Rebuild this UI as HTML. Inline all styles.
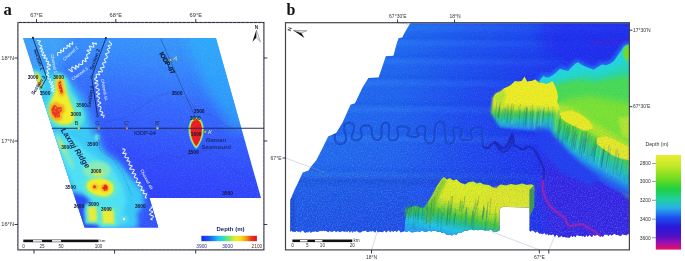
<!DOCTYPE html>
<html><head><meta charset="utf-8"><title>Figure</title>
<style>
html,body{margin:0;padding:0;background:#fff;}
svg{display:block}
text{font-family:"Liberation Sans",sans-serif;}
.ser{font-family:"Liberation Serif",serif;font-weight:bold;}
.lb{font-size:5.7px;fill:#333;}
.ct{font-size:4.8px;font-weight:bold;fill:#151530;}
.ch{font-size:4.2px;fill:#f4f8ff;}
.sec{font-size:4.9px;fill:#14224e;font-weight:bold;}
</style></head><body>
<svg width="685" height="261" viewBox="0 0 685 261">
<defs>
<filter id="b1" x="-30%" y="-30%" width="160%" height="160%"><feGaussianBlur stdDeviation="1"/></filter>
<filter id="b15" x="-30%" y="-30%" width="160%" height="160%"><feGaussianBlur stdDeviation="1.5"/></filter>
<filter id="b2" x="-30%" y="-30%" width="160%" height="160%"><feGaussianBlur stdDeviation="2.2"/></filter>
<filter id="b3" x="-30%" y="-30%" width="160%" height="160%"><feGaussianBlur stdDeviation="3.5"/></filter>
<filter id="b5" x="-40%" y="-40%" width="180%" height="180%"><feGaussianBlur stdDeviation="6"/></filter>
<filter id="b05" x="-30%" y="-30%" width="160%" height="160%"><feGaussianBlur stdDeviation="0.5"/></filter>
<linearGradient id="mapg" gradientUnits="userSpaceOnUse" x1="200" y1="38" x2="175" y2="200">
<stop offset="0" stop-color="#3699fa"/><stop offset="0.2" stop-color="#3586fb"/><stop offset="0.43" stop-color="#3468fc"/><stop offset="0.8" stop-color="#304afa"/><stop offset="1" stop-color="#2e40f8"/>
</linearGradient>
<linearGradient id="cba" x1="0" y1="0" x2="1" y2="0">
<stop offset="0" stop-color="#1028f0"/><stop offset="0.15" stop-color="#1c60f0"/><stop offset="0.3" stop-color="#20c0f0"/><stop offset="0.4" stop-color="#30e0c0"/><stop offset="0.5" stop-color="#80e860"/><stop offset="0.62" stop-color="#e8f030"/><stop offset="0.72" stop-color="#f8d818"/><stop offset="0.82" stop-color="#f09010"/><stop offset="0.9" stop-color="#e83818"/><stop offset="1" stop-color="#e01020"/>
</linearGradient>
<linearGradient id="cbb" x1="0" y1="0" x2="0" y2="1">
<stop offset="0" stop-color="#ecec30"/><stop offset="0.12" stop-color="#c0e828"/><stop offset="0.25" stop-color="#70dc20"/><stop offset="0.36" stop-color="#20d040"/><stop offset="0.47" stop-color="#20d0a0"/><stop offset="0.56" stop-color="#28b0e8"/><stop offset="0.66" stop-color="#2050f0"/><stop offset="0.76" stop-color="#2818d8"/><stop offset="0.86" stop-color="#5010c8"/><stop offset="0.93" stop-color="#a010b0"/><stop offset="1" stop-color="#e81060"/>
</linearGradient>
<filter id="nza" x="0" y="0" width="100%" height="100%"><feTurbulence type="fractalNoise" baseFrequency="0.9" numOctaves="2" seed="7"/><feColorMatrix type="matrix" values="0 0 0 0 0.75  0 0 0 0 0.85  0 0 0 0 1  0 0 0 2.4 -1.15"/></filter>
<clipPath id="mapclip"><polygon points="23,38 216,38 261,198 149.5,198 158.3,227.5 84.6,227.5"/></clipPath>
</defs>
<rect width="685" height="261" fill="#fff"/>

<g id="panelA">
<g clip-path="url(#mapclip)">
<rect x="20" y="36" width="245" height="194" fill="url(#mapg)"/>
<polygon points="16,30 70,30 62,60 50,80 30,80" fill="#44b0f6" opacity="0.6" filter="url(#b5)"/>
<polygon points="186,30 224,30 252,130 232,130 206,90 190,50" fill="#2cb0fa" opacity="0.65" filter="url(#b5)"/>
<g filter="url(#b3)">
<polygon points="20,66 44,66 58,70 70,80 84,96 92,118 97,130 104,150 120,162 132,178 144,192 146,210 138,230 80,232 20,232" fill="#38a4f8" opacity="0.95"/>
</g>
<g filter="url(#b2)">
<polygon points="30,70 44,72 54,74 66,78 76,94 86,112 88,126 94,140 104,154 118,164 130,178 142,192 143,210 134,228 86,230 20,120" fill="#38ccf6" opacity="0.92"/>
<polygon points="56,134 70,136 86,150 100,160 114,170 122,184 126,200 120,226 92,228 76,190 62,160" fill="#50e2f2" opacity="0.9"/>
<polygon points="64,190 84,194 91,200 85.5,212 90,220 100,224 100,232 70,232" fill="#2c48f4" opacity="0.98"/>
<polygon points="136,214 150,196 164,230 140,230" fill="#3054f8" opacity="0.9"/>
</g>
<g filter="url(#b15)">
<path d="M56,73 C64,72 69,80 70,90 C74,98 82,106 84,115 C86,124 78,130 68,129.5 C56,129 46,122 45,112 C44,104 50,98 52,92 C53,86 51,78 56,73Z" fill="#5ce8d0"/>
<ellipse cx="38" cy="80.5" rx="4.8" ry="10.5" transform="rotate(-18 38 80.5)" fill="#5ce8d0"/>
<path d="M84,180 C92,172 110,173 117,182 C121,190 116,200 104,200.5 C96,200 87,197 84,191 C82,186 82,183 84,180Z" fill="#5ce8d0"/>
<ellipse cx="64.5" cy="151" rx="20" ry="3.2" transform="rotate(62 64.5 151)" fill="#7eeac0" opacity="0.9"/>
<ellipse cx="97" cy="170" rx="14" ry="9" fill="#8cecb0" opacity="0.9"/>
<rect x="85" y="204.5" width="14" height="19.5" fill="#5ce8d0"/>
<rect x="99" y="207" width="18" height="19" fill="#5ce8d0"/>
<ellipse cx="124" cy="219" rx="4" ry="4" fill="#58e0f0" opacity="0.8"/>
</g>
<g filter="url(#b1)">
<path d="M57.5,76.5 C62,75 65,80 66,90 C68,98 72,105 74,113 C75.5,120 72,124.5 66,124.5 C58,125 50.5,120 49.5,112 C48.5,104 53,98 55,92 C56,86 54.5,80 57.5,76.5Z" fill="#f2ee28"/>
<ellipse cx="38" cy="80.5" rx="3" ry="8.2" transform="rotate(-18 38 80.5)" fill="#f0e028"/>
<path d="M88,181.5 C94,177 107,177.5 112.5,184 C115.5,190 111.5,196.5 104,196.5 C98,196 90.5,193.5 88,190 C86,186.5 86.5,183.5 88,181.5Z" fill="#f2ee28"/>
<ellipse cx="98" cy="173" rx="5.5" ry="3.2" fill="#cdec54" opacity="0.85"/>
<ellipse cx="62" cy="146" rx="7" ry="1.5" transform="rotate(62 62 146)" fill="#c8ec58" opacity="0.85"/>
<path d="M87.8,207.5 L96,206.5 L97,221.5 L89,221.5Z" fill="#e8ec38"/>
<path d="M101.8,210 L113.5,209.5 L114.5,223.5 L103,223.5Z" fill="#e8ec38"/>
</g>
<g filter="url(#b1)">
<path d="M57.5,80 L62,79 L63.5,88 L65,94 L61,97 L58,91 L57,85Z" fill="#f4a81c"/>
<path d="M50,105 L56,101.5 L60,104 L64,105 L65,111 L62,115 L62,120 L55,121 L51,117 L49.5,111Z" fill="#f4a81c"/>
<ellipse cx="95" cy="187" rx="3.4" ry="3" fill="#f4b01c"/>
<ellipse cx="105" cy="187.8" rx="4.4" ry="4" fill="#f4a81c"/>
<circle cx="39" cy="84" r="2" fill="#f4a81c"/>
</g>
<g filter="url(#b05)">
<path d="M58.8,82 L60.8,81 L61.6,86 L63,92 L61,94 L59.6,90 L58.5,85Z" fill="#ea2a1c"/>
<path d="M52,107 L55,104.5 L57.5,107.5 L61.5,107 L62,111 L59.5,113.5 L60,117 L56,118 L53,115.5 L51.2,111Z" fill="#ea2a1c" opacity="0.9"/>
<circle cx="39.2" cy="84.5" r="1.0" fill="#e83820"/>
<circle cx="94.5" cy="186.8" r="1.5" fill="#e83020"/>
<path d="M103,185.3 L106,184.5 L107.8,187 L107.3,190.6 L104,190.8 L102.3,188Z" fill="#e81c1c"/>
<circle cx="124" cy="219" r="1.2" fill="#f8f8d0"/>
</g>
<g fill="#f6b428">
<rect x="60.1" y="83.4" width="0.9" height="0.9"/>
<rect x="59.2" y="84.0" width="0.9" height="0.9"/>
<rect x="61.5" y="84.0" width="0.9" height="0.9"/>
<rect x="60.0" y="89.2" width="0.9" height="0.9"/>
<rect x="60.7" y="92.3" width="0.9" height="0.9"/>
<rect x="60.5" y="86.1" width="0.9" height="0.9"/>
<rect x="61.0" y="83.6" width="0.9" height="0.9"/>
<rect x="62.1" y="85.5" width="0.9" height="0.9"/>
<rect x="60.1" y="89.2" width="0.9" height="0.9"/>
<rect x="59.1" y="88.9" width="0.9" height="0.9"/>
<rect x="60.3" y="108.7" width="0.9" height="0.9"/>
<rect x="61.4" y="111.4" width="0.9" height="0.9"/>
<rect x="59.5" y="110.6" width="0.9" height="0.9"/>
<rect x="55.4" y="107.8" width="0.9" height="0.9"/>
<rect x="51.1" y="106.9" width="0.9" height="0.9"/>
<rect x="61.9" y="111.5" width="0.9" height="0.9"/>
<rect x="56.1" y="116.6" width="0.9" height="0.9"/>
<rect x="57.7" y="117.7" width="0.9" height="0.9"/>
<rect x="54.9" y="107.0" width="0.9" height="0.9"/>
<rect x="61.1" y="106.3" width="0.9" height="0.9"/>
<rect x="59.7" y="112.3" width="0.9" height="0.9"/>
<rect x="61.8" y="117.2" width="0.9" height="0.9"/>
<rect x="58.3" y="104.5" width="0.9" height="0.9"/>
<rect x="51.3" y="110.6" width="0.9" height="0.9"/>
<rect x="60.0" y="105.1" width="0.9" height="0.9"/>
<rect x="55.7" y="105.2" width="0.9" height="0.9"/>
<rect x="54.4" y="104.1" width="0.9" height="0.9"/>
<rect x="54.6" y="111.3" width="0.9" height="0.9"/>
<rect x="53.2" y="115.0" width="0.9" height="0.9"/>
<rect x="51.6" y="107.0" width="0.9" height="0.9"/>
<rect x="53.8" y="109.7" width="0.9" height="0.9"/>
<rect x="59.4" y="109.0" width="0.9" height="0.9"/>
<rect x="58.6" y="116.9" width="0.9" height="0.9"/>
<rect x="52.4" y="116.1" width="0.9" height="0.9"/>
<rect x="57.6" y="114.5" width="0.9" height="0.9"/>
<rect x="57.7" y="109.7" width="0.9" height="0.9"/>
<rect x="102.9" y="185.5" width="0.9" height="0.9"/>
<rect x="103.3" y="185.7" width="0.9" height="0.9"/>
<rect x="103.2" y="185.8" width="0.9" height="0.9"/>
<rect x="105.3" y="189.2" width="0.9" height="0.9"/>
<rect x="106.5" y="189.7" width="0.9" height="0.9"/>
<rect x="103.0" y="189.5" width="0.9" height="0.9"/>
</g>
<g filter="url(#b05)">
<path d="M196.1,116.8 C201.9,117.6 203.8,124.5 203.8,129.5 C203.8,137.5 199.6,146.0 196.1,149 C192.6,146.0 188.4,137.5 188.4,129.5 C188.4,124.5 190.3,117.6 196.1,116.8Z" fill="#38dce0"/>
<path d="M196.1,117.8 C201.3,118.6 203.0,124.5 203.0,129.5 C203.0,137.5 199.2,144.8 196.1,147.8 C193.0,144.8 189.2,137.5 189.2,129.5 C189.2,124.5 190.9,118.6 196.1,117.8Z" fill="#c8ec38"/>
<path d="M196.1,118.6 C200.8,119.4 202.4,124.5 202.4,129.5 C202.4,137.5 198.9,144.0 196.1,147 C193.3,144.0 189.8,137.5 189.8,129.5 C189.8,124.5 191.4,119.4 196.1,118.6Z" fill="#f4d020"/>
<path d="M196.2,119.4 C200.5,120.2 201.9,124.5 201.9,129.5 C201.9,137.5 198.8,143.2 196.2,146.2 C193.6,143.2 190.5,137.5 190.5,129.5 C190.5,124.5 191.9,120.2 196.2,119.4Z" fill="#ea1c24"/>
</g>
<ellipse cx="96.8" cy="137.5" rx="2.6" ry="3.4" fill="#58e4e0" filter="url(#b1)"/>
<rect x="20" y="36" width="245" height="194" filter="url(#nza)" opacity="0.14"/>
<g fill="none" stroke="#22306a" stroke-width="0.45" stroke-dasharray="0.6 1" opacity="0.8">
<path d="M97,128 L100,150 L112,158 L122,172 L128,186 L132,196"/>
<path d="M104,122 L124,118 L140,108 L158,96 L172,92 L188,100 L200,112 L214,116 L226,126 L238,132"/>
<path d="M150,160 L166,154 L180,158 L196,152 L210,150 L224,160 L236,172 L248,176"/>
</g>
</g>
<g stroke="#16265e" stroke-width="0.9" fill="none">
<path d="M32.9,37.9 L46.8,77.8 L41.2,87.3"/>
<path d="M105.9,38.1 L91.6,77 L97.5,116"/>
</g>
<path d="M160.6,38.5 L196,119" stroke="#1d2c50" stroke-width="0.45" fill="none" opacity="0.85"/>
<path d="M51.8,128.3 L264,128.3" stroke="#262c58" stroke-width="1.05" fill="none"/>
<circle cx="32.9" cy="37.9" r="1.1" fill="#1a2a50"/>
<circle cx="105.9" cy="38.1" r="1.1" fill="#1a2a50"/>
<circle cx="46.8" cy="77.8" r="1.1" fill="#1a7a8a" stroke="#16265e" stroke-width="0.4"/>
<circle cx="41.2" cy="87.3" r="1.1" fill="#1a7a8a" stroke="#16265e" stroke-width="0.4"/>
<circle cx="91.6" cy="77" r="1.1" fill="#1a7a8a" stroke="#16265e" stroke-width="0.4"/>
<circle cx="97.5" cy="116" r="1.1" fill="#1a7a8a" stroke="#16265e" stroke-width="0.4"/>
<rect x="77.8" y="127.3" width="2" height="2" fill="#e8e030"/>
<rect x="97.8" y="127.3" width="2" height="2" fill="#d08840"/>
<rect x="126" y="127.3" width="2" height="2" fill="#d08840"/>
<rect x="156.5" y="127.3" width="2" height="2" fill="#e8e030"/>
<circle cx="205.2" cy="131.9" r="1.1" fill="#f0d020" stroke="#604000" stroke-width="0.3"/>
<circle cx="170.4" cy="59.9" r="1.2" fill="#f0c020" stroke="#604000" stroke-width="0.3"/>
<g stroke="#f2faff" stroke-width="1.05" fill="none" stroke-linecap="round" stroke-linejoin="round" opacity="0.95">
<path d="M37.3,40.4 L37.7,40.6 L38.3,40.7 L39.0,40.8 L39.7,40.9 L40.2,41.0 L40.3,41.3 L40.1,41.7 L39.7,42.1 L39.0,42.7 L38.8,43.0 L38.8,43.4 L38.8,43.7 L38.9,44.0 L39.1,44.2 L39.3,44.5 L39.6,44.7 L39.9,44.9 L40.2,45.1 L40.5,45.3 L41.0,45.5 L41.5,45.7 L41.8,45.9 L41.9,46.1 L41.8,46.5 L41.5,46.9 L41.0,47.4 L40.5,47.9 L40.0,48.4 L40.0,48.7 L40.6,48.8 L41.4,48.8 L42.1,48.9 L42.6,49.1 L42.8,49.3 L42.5,49.7 L42.0,50.2 L41.4,50.7 L41.1,51.2 L41.1,51.5 L41.3,51.7 L41.9,51.8 L42.6,51.9 L43.2,52.0 L43.6,52.2 L43.7,52.5 L43.5,52.9 L43.2,53.3 L42.9,53.7 L42.5,54.2 L42.1,54.6 L42.0,54.9 L42.3,55.2 L43.0,55.4 L43.8,55.2 L44.7,55.1 L45.3,55.1 L45.5,55.3 L45.3,55.7 L44.8,56.4 L44.2,57.1 L43.9,57.7 L43.9,58.0 L44.3,58.1 L44.9,58.1 L45.5,58.1 L46.0,58.1 L46.5,58.2 L46.9,58.3 L47.1,58.5 L47.1,58.9 L46.9,59.3 L46.6,59.9 L46.3,60.4 L46.0,60.9 L46.1,61.2 L46.5,61.4 L47.1,61.4 L47.7,61.4 L48.2,61.4 L48.6,61.5 L48.7,61.8 L48.6,62.2 L48.2,62.8 L47.8,63.4 L47.4,63.9 L47.4,64.3 L47.9,64.4 L48.6,64.0 L49.5,64.4 L50.1,64.8 L50.5,65.1 L50.6,65.4 L50.3,65.7 L49.7,65.9 L48.9,66.1 L48.1,66.3 L47.4,66.6 L46.9,66.8 L46.9,67.1 L47.2,67.4 L47.8,67.8 L48.6,68.2 L49.5,68.6 L50.1,69.0 L50.0,69.3 L49.3,69.5 L48.2,69.7 L47.6,69.9 L47.3,70.2 L47.1,70.5 L47.1,70.8 L47.2,71.1 L47.4,71.4 L47.6,71.7 L47.8,72.1 L48.1,72.4 L48.5,72.7 L48.7,73.1 L48.5,73.4 L48.1,73.6 L47.5,73.8 L47.0,74.1 L46.7,74.3 L46.7,74.6 L47.0,75.0 L47.5,75.3 L48.0,75.7 L48.4,76.1 L48.5,75.7 L48.6,76.0 L48.5,76.4 L48.3,76.9 L48.0,77.4 L47.8,77.9 L47.7,78.3 L47.7,78.6 L48.0,78.8 L48.4,78.9 L48.9,78.9 L49.4,79.0 L50.1,79.0 L50.6,79.0 L50.8,79.3 L50.7,79.7 L50.3,80.2 L49.9,80.8 L49.4,81.4 L49.1,81.9 L49.2,82.2 L49.8,82.2 L50.7,82.1 L51.6,81.9 L52.5,81.7 L52.8,81.9 L52.6,82.4 L51.9,83.1 L51.1,83.9 L50.6,84.5 L50.2,84.3 L50.4,84.6 L51.1,84.8 L52.2,85.0 L53.1,85.1 L53.6,85.4 L53.4,85.7 L52.9,86.1 L52.3,86.5 L51.6,86.8 L51.0,87.2 L51.0,87.5 L51.6,87.8 L52.6,87.9 L53.5,88.1 L54.0,88.4 L54.1,88.6 L53.7,89.0 L53.0,89.4 L52.2,89.8 L51.7,90.2 L51.6,90.5 L51.9,90.7 L52.5,91.0 L53.2,91.2 L53.6,91.4 L54.0,91.7"/>
<path d="M57.7,55.4 L57.7,54.9 L57.6,54.3 L57.6,53.8 L57.6,53.3 L57.7,53.0 L57.9,52.7 L58.1,52.5 L58.4,52.4 L58.8,52.4 L59.2,52.4 L59.6,52.5 L60.0,52.6 L60.6,52.8 L61.0,52.8 L61.1,52.4 L60.9,51.7 L60.7,51.0 L60.6,50.3 L60.7,50.0 L61.2,50.1 L61.9,50.6 L62.8,51.2 L63.3,51.4 L63.6,51.3 L63.6,50.9 L63.6,50.3 L63.5,49.6 L63.5,49.1 L63.5,48.7 L63.6,48.3 L63.8,48.1 L64.1,48.0 L64.5,48.0 L64.9,48.1 L65.4,48.2 L65.9,48.4 L66.3,48.4 L66.6,48.3 L66.9,48.2 L67.0,47.9 L67.1,47.5 L67.2,47.1 L67.2,46.6 L67.1,45.9 L67.0,45.3 L67.3,45.2 L67.9,45.5 L68.8,46.2 L69.6,46.8 L70.1,46.9 L70.1,46.5 L69.9,45.6 L69.4,44.6 L69.3,44.0 L69.4,43.6 L69.7,43.4 L70.0,43.4 L70.5,43.5 L71.0,43.7 L71.6,43.9 L72.2,44.2 L72.6,44.3 L72.8,44.1 L72.7,43.5 L72.5,42.6 L72.2,41.7"/>
<path d="M68.8,69.7 L69.1,69.5 L69.6,69.8 L70.3,70.4 L71.1,71.1 L71.7,71.6 L72.1,71.7 L72.3,71.4 L72.1,70.5 L71.8,69.4 L71.7,68.7 L71.7,68.1 L71.8,67.6 L71.9,67.2 L72.1,67.0 L72.5,67.0 L72.9,67.2 L73.4,67.4 L74.0,67.8 L74.6,68.2 L75.4,69.0 L75.9,69.3 L76.1,69.0 L76.0,68.2 L75.7,67.3 L75.5,66.3 L75.5,65.7 L75.8,65.5 L76.3,65.8 L77.0,66.5 L77.8,67.2 L78.2,67.3 L78.5,67.2 L78.7,66.9 L78.7,66.4 L78.8,65.9 L78.8,65.3 L78.7,64.8 L78.7,64.4 L78.9,64.1 L79.2,64.0 L79.7,64.1 L80.2,64.3 L80.8,64.5 L81.2,64.5 L81.7,64.6 L82.0,64.5 L82.3,64.4 L82.5,64.2 L82.6,63.8 L82.6,63.4 L82.6,62.9 L82.5,62.3 L82.4,61.7 L82.4,61.2 L82.5,60.9 L82.7,60.7 L83.0,60.6 L83.4,60.6 L83.9,60.7 L84.4,60.9 L85.1,61.2 L85.7,61.5 L86.1,61.5 L86.1,61.0 L85.8,60.2 L85.4,59.2 L85.1,58.5 L85.2,58.1 L85.6,58.1 L86.2,58.3 L86.8,58.6 L87.4,58.5 L87.8,58.2 L88.0,58.0 L87.9,57.6 L87.6,57.3 L87.2,56.9 L86.9,56.5 L86.7,56.1 L86.6,55.8 L86.6,55.5 L86.7,55.2 L86.8,54.9 L87.0,54.7 L87.2,54.4 L87.5,54.2 L87.9,53.9 L88.3,53.7 L88.9,53.6 L89.4,53.4 L89.7,53.1 L89.8,52.8 L89.6,52.5 L89.2,52.1 L88.6,51.7 L88.0,51.2 L87.2,50.7 L87.0,50.4 L87.4,50.2 L88.2,50.0 L89.1,50.1 L89.7,50.2 L90.3,50.3 L90.7,50.3 L90.9,50.1 L90.9,49.7 L90.7,49.1 L90.3,48.4 L89.9,47.7 L89.5,46.9 L89.3,46.3 L89.5,46.0 L90.0,46.1 L90.8,46.4 L91.7,46.8 L92.5,47.1 L93.1,47.2 L93.5,47.2 L93.8,47.1 L93.9,46.7 L93.8,46.3 L93.6,45.7 L93.3,45.0 L93.0,44.4 L92.6,43.6 L92.4,43.0 L92.5,42.8 L93.2,42.9 L94.1,43.3 L95.1,43.8 L96.1,44.3 L96.6,44.3 L96.5,43.8 L95.9,43.0"/>
<path d="M109.3,41.1 L109.3,41.4 L109.5,41.8 L109.9,42.2 L110.4,42.7 L110.9,43.1 L111.3,43.5 L111.5,43.9 L111.6,44.2 L111.5,44.5 L111.3,44.8 L111.0,45.0 L110.5,45.2 L109.9,45.3 L109.3,45.5 L108.5,45.6 L108.2,45.8 L108.4,46.1 L108.8,46.6 L109.4,47.1 L109.8,47.5 L109.9,47.8 L109.9,48.1 L109.5,48.3 L109.1,48.5 L108.5,48.7 L108.1,48.9 L107.7,49.1 L107.4,49.3 L107.4,49.6 L107.6,50.0 L108.0,50.4 L108.4,50.8 L108.8,51.2 L109.0,51.6 L109.1,51.9 L109.0,52.2 L108.8,52.5 L108.5,52.7 L108.0,52.9 L107.5,53.1 L107.0,53.2 L106.5,53.4 L106.0,53.6 L105.7,53.8 L105.6,54.1 L105.6,54.4 L105.9,54.7 L106.2,55.1 L106.6,55.6 L107.0,56.1 L107.2,56.5 L107.4,56.8 L107.4,57.2 L107.3,57.5 L107.1,57.7 L106.9,58.0 L106.6,58.2 L106.2,58.3 L105.9,58.5 L105.5,58.7 L105.0,58.8 L104.6,59.0 L104.4,59.3 L104.3,59.6 L104.4,59.9 L104.6,60.3 L104.9,60.7 L105.3,61.2 L105.6,61.6 L105.9,62.1 L105.8,62.4 L105.5,62.6 L105.0,62.7 L104.2,62.7 L103.4,62.7 L103.0,62.9 L102.7,63.1 L102.6,63.4 L102.7,63.7 L102.8,64.1 L103.0,64.5 L103.2,64.9 L103.4,65.3 L103.7,65.7 L104.0,66.2 L104.2,66.5 L104.2,66.9 L104.1,67.2 L103.8,67.4 L103.3,67.5 L102.7,67.6 L102.1,67.7 L101.3,67.7 L100.8,67.8 L100.4,68.0 L100.4,68.3 L100.6,68.7 L100.9,69.2 L101.4,69.7 L101.9,70.2 L102.3,70.6 L102.5,71.0 L102.5,71.3 L101.9,71.9 L101.5,71.9 L100.8,71.8 L100.2,71.6 L99.5,71.5 L98.9,71.4 L98.6,71.5 L98.5,71.8 L98.7,72.3 L99.0,73.0 L99.3,73.7 L99.7,74.4 L99.7,74.8 L99.4,74.9 L98.7,74.7 L97.8,74.3 L97.3,74.3 L96.8,74.3 L96.4,74.3 L96.2,74.5 L96.0,74.8 L96.1,75.2 L96.1,75.7 L96.3,76.2 L96.5,76.8 L96.8,77.4 L96.7,77.7 L96.4,77.8 L95.8,77.8 L95.4,77.8 L95.1,78.2 L94.9,78.5 L94.7,78.9 L94.7,79.2 L94.8,79.5 L95.1,79.7 L95.5,79.9 L96.0,80.2 L96.5,80.4 L97.1,80.5 L97.6,80.7 L97.8,81.0 L97.5,81.4 L96.9,81.8 L96.1,82.3 L95.3,82.7 L94.9,83.1 L95.1,83.4 L95.8,83.6 L96.8,83.7 L97.4,83.8 L97.9,84.1 L98.1,84.3 L98.1,84.6 L98.0,85.0 L97.6,85.4 L97.2,85.7 L96.8,86.1 L96.5,86.4 L96.1,86.8 L95.8,87.1 L95.7,87.4 L95.9,87.7 L96.2,88.0 L96.7,88.2 L97.3,88.4 L97.9,88.7 L98.4,88.9 L98.9,89.2 L99.1,89.4 L99.3,89.7 L99.2,90.0 L99.0,90.4 L98.6,90.7 L98.1,91.1 L97.6,91.4 L96.9,91.8 L96.4,92.2 L96.4,92.5 L96.7,92.7 L97.5,93.0 L98.3,93.2 L99.2,93.3 L99.7,93.6 L99.7,93.9 L99.1,94.3 L98.2,94.7 L97.6,95.1 L97.2,95.4 L97.0,95.7 L96.9,96.0 L97.0,96.3 L97.3,96.6 L97.7,96.8 L98.2,97.1 L98.8,97.3 L99.3,97.6 L99.6,97.8 L99.6,98.1 L99.5,98.4 L99.2,98.8 L98.8,99.1 L98.5,99.5 L98.2,99.8 L98.0,100.2 L97.9,100.5 L97.8,100.8 L98.0,101.1 L98.2,101.3 L98.5,101.6 L99.0,101.8 L99.4,102.1 L100.1,102.3 L100.6,102.5 L100.9,102.8 L100.8,103.1 L100.3,103.5 L99.6,103.9 L98.9,104.3 L98.4,104.6 L98.1,105.0 L98.0,105.3 L98.1,105.6 L98.4,105.9 L98.9,106.1 L99.5,106.3 L100.1,106.5 L100.5,106.8 L100.8,107.0 L101.0,107.3 L101.1,107.6 L101.0,107.7 L101.0,108.0 L100.9,108.4 L100.8,108.7 L100.6,109.1 L100.4,109.5 L100.2,109.9 L100.0,110.3 L99.9,110.6 L100.0,110.9 L100.2,111.2 L100.5,111.4 L101.0,111.5 L101.5,111.7 L102.0,111.8 L102.4,112.0 L102.7,112.2 L102.8,112.5 L102.7,112.8 L102.5,113.2 L102.1,113.7 L101.8,114.1 L101.3,114.6 L101.1,115.0 L101.4,115.2 L102.1,115.3 L103.1,115.2 L103.7,115.3 L104.0,115.5 L104.1,115.8 L104.0,116.2 L103.8,116.6 L103.6,117.0 L103.3,117.4"/>
<path d="M122.6,148.9 L123.2,149.0 L123.7,149.1 L124.2,149.1 L124.6,149.3 L124.9,149.5 L125.0,149.8 L124.9,150.1 L124.8,150.6 L124.5,151.0 L124.1,151.5 L123.7,152.1 L123.0,152.8 L122.7,153.3 L122.9,153.5 L123.6,153.5 L124.5,153.4 L125.4,153.2 L125.9,153.3 L126.1,153.6 L126.1,153.9 L126.0,154.3 L125.7,154.8 L125.5,155.2 L125.3,155.7 L125.1,156.1 L124.9,156.5 L124.9,156.9 L124.9,157.2 L125.1,157.4 L125.4,157.6 L125.9,157.7 L126.4,157.8 L126.9,157.8 L127.7,157.8 L128.3,157.8 L128.6,158.0 L128.5,158.4 L128.2,158.9 L127.8,159.5 L127.3,160.0 L127.0,160.4 L126.9,160.8 L127.1,161.0 L127.7,161.1 L128.4,161.1 L129.2,161.1 L129.6,161.3 L129.8,161.5 L130.0,161.8 L129.9,162.1 L129.8,162.5 L129.7,162.9 L129.5,163.3 L129.3,163.7 L129.0,164.1 L128.9,164.5 L129.0,164.8 L129.2,165.0 L129.6,165.2 L130.1,165.3 L130.5,165.4 L131.2,165.5 L131.8,165.6 L132.1,165.8 L132.0,166.1 L131.6,166.6 L130.9,167.2 L130.3,167.8 L129.9,168.3 L129.7,168.7 L129.7,169.0 L130.1,169.2 L130.7,169.3 L131.4,169.3 L132.3,169.3 L132.9,169.3 L133.4,169.4 L133.9,169.6 L134.1,169.8 L134.2,170.1 L134.1,170.5 L133.8,170.9 L133.5,171.4 L133.1,171.9 L132.7,172.4 L132.2,173.0 L132.0,173.4 L132.2,173.6 L132.7,173.7 L133.4,173.7 L134.1,173.7 L134.7,173.7 L135.3,173.8 L135.7,173.9 L135.8,174.2 L135.7,174.6 L135.3,175.1 L134.8,175.7 L134.5,176.2 L134.3,176.6 L134.3,177.0 L134.4,177.2 L134.6,177.5 L135.0,177.6 L135.4,177.8 L135.8,177.9 L136.2,178.0 L136.6,178.1 L137.0,178.3 L137.3,178.5 L137.4,178.7 L137.5,179.1 L137.4,179.4 L137.2,179.8 L137.0,180.3 L136.7,180.7 L136.5,181.2 L136.2,181.7 L136.2,182.0 L136.3,182.3 L136.7,182.5 L137.2,182.5 L137.9,182.5 L138.6,182.5 L139.6,182.3 L140.3,182.3 L140.4,182.6 L140.0,183.1 L139.2,183.9 L138.3,184.7 L138.1,185.1 L138.1,185.4 L138.4,185.6 L138.8,185.8 L139.2,185.9 L139.7,186.0 L140.2,186.0 L140.7,186.1 L141.1,186.2 L141.5,186.4 L141.8,186.5 L142.0,186.8 L142.1,187.1 L142.1,187.4 L142.0,187.8 L141.8,188.3 L141.6,188.7 L141.4,189.2 L141.0,189.8 L140.8,190.2 L141.1,190.4 L141.8,190.4 L142.6,190.2 L143.2,190.2 L143.6,190.3 L143.9,190.5 L143.9,190.8 L143.8,191.3 L143.5,191.7 L143.3,192.2 L143.2,192.7 L143.1,193.0 L143.2,193.3 L143.5,193.5 L144.0,193.6 L144.5,193.6 L145.0,193.7 L145.6,193.7 L146.1,193.7 L146.5,193.8 L146.7,194.1 L146.7,194.4 L146.5,194.9 L146.2,195.4 L145.7,196.0 L145.4,196.5 L145.3,197.0 L145.4,197.3 L145.5,197.6 L145.7,197.8 L146.0,198.0 L146.3,198.1"/>
<path d="M151.0,206.9 L151.6,207.1 L152.0,207.4 L152.0,207.7 L151.7,208.0 L151.2,208.4 L150.5,208.8 L150.0,209.2 L149.7,209.6 L149.4,209.9 L149.4,210.2 L149.7,210.5 L150.1,210.7 L150.6,210.9 L151.3,211.1 L152.1,211.3 L152.6,211.5 L152.8,211.8 L152.5,212.2 L151.9,212.6 L151.1,213.0 L150.7,213.4 L150.2,213.7 L149.9,214.1 L149.8,214.4 L150.0,214.7 L150.3,214.9 L150.8,215.1 L151.5,215.4 L152.1,215.5 L152.7,215.8 L153.1,216.0 L153.3,216.3 L153.4,216.6 L153.3,216.9 L153.1,217.2 L152.8,217.6 L152.4,217.9 L152.1,218.3 L151.4,218.7 L150.9,219.1 L150.8,219.4 L151.3,219.6 L152.2,219.8"/>
</g>
<text class="ch" transform="translate(71.5,54.5) rotate(-42)" text-anchor="middle" >Channel 2</text>
<text class="ch" transform="translate(80.5,75) rotate(-36)" text-anchor="middle" >Channel 3</text>
<text class="ch" transform="translate(52.5,64) rotate(80)" text-anchor="middle" >Channel 1</text>
<text class="ch" transform="translate(103,90) rotate(80)" text-anchor="middle" >Channel 4A</text>
<text class="ch" transform="translate(145.3,180) rotate(62)" text-anchor="middle" >Channel 4B</text>
<text class="sec" transform="translate(37,60) rotate(71)" text-anchor="middle" >Section 1</text>
<text class="sec" transform="translate(96.5,60) rotate(-70)" text-anchor="middle" >Section 2</text>
<text class="sec" transform="translate(39.6,86) rotate(-57)" text-anchor="middle" >Section 3</text>
<text class="sec" transform="translate(92,97) rotate(-82)" text-anchor="middle" >Section 4</text>
<text class="ct" x="33" y="79" text-anchor="middle">3000</text>
<text class="ct" x="58.5" y="78.5" text-anchor="middle">3000</text>
<text class="ct" x="45" y="95" text-anchor="middle">3500</text>
<text class="ct" x="81.7" y="107" text-anchor="middle">3500</text>
<text class="ct" x="75.9" y="116" text-anchor="middle">3000</text>
<text class="ct" x="92.5" y="146" text-anchor="middle">3500</text>
<text class="ct" x="66.5" y="148.5" text-anchor="middle">3000</text>
<text class="ct" x="96" y="173.3" text-anchor="middle">3000</text>
<text class="ct" x="70.5" y="188.5" text-anchor="middle">3500</text>
<text class="ct" x="79" y="208" text-anchor="middle">3600</text>
<text class="ct" x="93.6" y="206" text-anchor="middle">3000</text>
<text class="ct" x="106.4" y="211" text-anchor="middle">3000</text>
<text class="ct" x="140.3" y="208" text-anchor="middle">3600</text>
<text class="ct" x="177" y="94.5" text-anchor="middle">3500</text>
<text class="ct" x="199.2" y="113.2" text-anchor="middle">3500</text>
<text class="ct" x="195.3" y="120.3" text-anchor="middle">3000</text>
<text class="ct" x="196.2" y="136.1" text-anchor="middle" fill="#2020b0">1600</text>
<text class="ct" x="193.3" y="154.3" text-anchor="middle">3500</text>
<text class="ct" x="227.5" y="195.2" text-anchor="middle">3500</text>
<text x="76.6" y="124.6" text-anchor="middle" font-size="6" fill="#243c3c">B</text>
<text x="97.5" y="124.6" text-anchor="middle" font-size="6" fill="#243c3c">C</text>
<text x="126.5" y="124.6" text-anchor="middle" font-size="6" fill="#243c3c">C'</text>
<text x="157.5" y="124.6" text-anchor="middle" font-size="6" fill="#243c3c">B'</text>
<text x="208" y="133.5" font-size="5" fill="#e8e8c0">A'</text>
<text x="173.2" y="59.6" font-size="5.6" fill="#eaea70" transform="rotate(20 173.2 59.6)">A</text>
<text x="134" y="135.3" font-size="5.6" fill="#18266a" stroke="#18266a" stroke-width="0.15">IODP-04</text>
<text class="" transform="translate(165.3,64) rotate(60)" text-anchor="middle" font-size="6.3" font-weight="bold" fill="#10183a" stroke="#10183a" stroke-width="0.25">IODP-07</text>
<text class="" transform="translate(73.3,149.5) rotate(56.5)" text-anchor="middle" font-size="7.8" font-weight="bold" font-style="italic" fill="#14245a">Laxmi Ridge</text>
<text x="216" y="142.2" text-anchor="middle" font-size="6.2" font-weight="bold" font-style="italic" fill="#1a2e78">Raman</text>
<text x="216.2" y="148.7" text-anchor="middle" font-size="6.2" font-weight="bold" font-style="italic" fill="#1a2e78">Seamount</text>
<rect x="17.9" y="22.5" width="246" height="227.4" fill="none" stroke="#30304e" stroke-width="1.15"/>
<rect x="17.9" y="22.5" width="246" height="227.4" fill="none" stroke="#d8c840" stroke-width="0.7" stroke-dasharray="0.8 3.4" opacity="0.8"/>
<g stroke="#222244" stroke-width="0.9">
<line x1="36.5" y1="19" x2="36.5" y2="22.5"/><line x1="34" y1="250" x2="34" y2="253.6"/>
<line x1="115.8" y1="19" x2="115.8" y2="22.5"/><line x1="114.6" y1="250" x2="114.6" y2="253.6"/>
<line x1="195.8" y1="19" x2="195.8" y2="22.5"/><line x1="195.7" y1="250" x2="195.7" y2="253.6"/>
<line x1="14.5" y1="58" x2="17.9" y2="58"/><line x1="263.9" y1="58" x2="267.3" y2="58"/>
<line x1="14.5" y1="141" x2="17.9" y2="141"/><line x1="263.9" y1="141" x2="267.3" y2="141"/>
<line x1="14.5" y1="224.5" x2="17.9" y2="224.5"/><line x1="263.9" y1="224.5" x2="267.3" y2="224.5"/>
</g>
<text class="lb" x="36.5" y="16.5" text-anchor="middle">67°E</text>
<text class="lb" x="115.8" y="16.5" text-anchor="middle">68°E</text>
<text class="lb" x="195.8" y="16.5" text-anchor="middle">69°E</text>
<text class="lb" x="14" y="59.8" text-anchor="end">18°N</text>
<text class="lb" x="14" y="142.8" text-anchor="end">17°N</text>
<text class="lb" x="14" y="226.3" text-anchor="end">16°N</text>
<text class="ser" x="3.4" y="15.3" font-size="16.6" fill="#111">a</text>
<polygon points="256.4,29.9 252.4,41.9 256.4,37.4" fill="#111"/>
<polygon points="256.4,29.9 260.4,41.9 256.4,37.4" fill="#f4f4f4" stroke="#666" stroke-width="0.5"/>
<text x="256.5" y="28.6" text-anchor="middle" font-size="4.8" font-weight="bold" fill="#333">N</text>
<rect x="23.3" y="239.6" width="75.2" height="2.6" fill="#111"/>
<rect x="33" y="240.1" width="9" height="1.6" fill="#fff"/><rect x="52" y="240.1" width="9" height="1.6" fill="#fff"/>
<text x="23.5" y="247.6" text-anchor="middle" font-size="4.6" fill="#333">0</text>
<text x="42" y="247.6" text-anchor="middle" font-size="4.6" fill="#333">25</text>
<text x="61" y="247.6" text-anchor="middle" font-size="4.6" fill="#333">50</text>
<text x="98.5" y="247.6" text-anchor="middle" font-size="4.6" fill="#333">100</text>
<text x="99.5" y="242" font-size="4.4" fill="#333">km</text>
<text x="230.5" y="231" text-anchor="middle" font-size="6" font-weight="bold" fill="#1c2a6a">Depth (m)</text>
<rect x="201.4" y="235.8" width="55.5" height="5.4" fill="url(#cba)"/>
<text x="201.7" y="248.2" text-anchor="middle" font-size="4.8" fill="#283070">3900</text>
<text x="227.5" y="248.2" text-anchor="middle" font-size="4.8" fill="#283070">3000</text>
<text x="256.9" y="248.2" text-anchor="middle" font-size="4.8" fill="#503020">2100</text>
</g>
<defs>
<linearGradient id="nzg" x1="0" y1="0" x2="0" y2="1"><stop offset="0" stop-color="#fff" stop-opacity="0.25"/><stop offset="0.45" stop-color="#fff" stop-opacity="0.5"/><stop offset="1" stop-color="#fff" stop-opacity="1"/></linearGradient><mask id="nzm" maskUnits="userSpaceOnUse" x="286" y="22" width="345" height="218"><rect x="286" y="22" width="345" height="218" fill="url(#nzg)"/></mask>
<filter id="nzd" x="0" y="0" width="100%" height="100%"><feTurbulence type="fractalNoise" baseFrequency="0.85" numOctaves="2" seed="4"/><feColorMatrix type="matrix" values="0 0 0 0 0.05  0 0 0 0 0.05  0 0 0 0 0.5  0 0 0 2.2 -0.95"/></filter>
<filter id="nzl" x="0" y="0" width="100%" height="100%"><feTurbulence type="fractalNoise" baseFrequency="0.8" numOctaves="2" seed="11"/><feColorMatrix type="matrix" values="0 0 0 0 0.45  0 0 0 0 0.65  0 0 0 0 1  0 0 0 2.2 -0.95"/></filter>
<linearGradient id="surfg" gradientUnits="userSpaceOnUse" x1="300" y1="0" x2="630" y2="0">
<stop offset="0" stop-color="#1f70f0"/><stop offset="0.3" stop-color="#1e64f0"/><stop offset="0.5" stop-color="#1c4af0"/><stop offset="0.65" stop-color="#1c3af0"/><stop offset="0.8" stop-color="#1e2cf0"/><stop offset="1" stop-color="#2424f0"/>
</linearGradient>
<linearGradient id="surfv" gradientUnits="userSpaceOnUse" x1="0" y1="22" x2="0" y2="235">
<stop offset="0" stop-color="#28a0f0" stop-opacity="0.22"/><stop offset="0.25" stop-color="#2080f0" stop-opacity="0.1"/><stop offset="0.6" stop-color="#2040f0" stop-opacity="0.0"/><stop offset="1" stop-color="#1828e8" stop-opacity="0.35"/>
</linearGradient>
<linearGradient id="fgr" gradientUnits="userSpaceOnUse" x1="462" y1="178" x2="448" y2="236">
<stop offset="0" stop-color="#c4ee20"/><stop offset="0.1" stop-color="#e0f020"/><stop offset="0.4" stop-color="#dcec22"/><stop offset="0.52" stop-color="#a0e028"/><stop offset="0.64" stop-color="#48cc38"/><stop offset="0.76" stop-color="#20c098"/><stop offset="0.88" stop-color="#20c8e8"/><stop offset="1" stop-color="#20a8f0"/>
</linearGradient>
<linearGradient id="cliff1" gradientUnits="userSpaceOnUse" x1="0" y1="100" x2="0" y2="138">
<stop offset="0" stop-color="#c8e828"/><stop offset="0.3" stop-color="#48d040"/><stop offset="0.6" stop-color="#20c8c0"/><stop offset="0.85" stop-color="#2090f0"/><stop offset="1" stop-color="#2060f0"/>
</linearGradient>
<linearGradient id="cliff2" gradientUnits="userSpaceOnUse" x1="600" y1="128" x2="575" y2="175">
<stop offset="0" stop-color="#c8e828"/><stop offset="0.3" stop-color="#48d040"/><stop offset="0.55" stop-color="#20c8c0"/><stop offset="0.8" stop-color="#2090f0"/><stop offset="1" stop-color="#2450f0"/>
</linearGradient>

<clipPath id="surfclip"><polygon points="290.3,231.0 290.3,200.0 291.0,198.6 294.6,189.8 297.5,184.0 302.8,172.6 308.7,170.4 310.9,166.8 316.5,160.0 323.8,145.4 328.2,136.6 336.2,133.0 342.8,122.0 350.6,104.8 355.0,103.3 362.3,88.0 368.4,78.1 378.6,77.4 385.9,56.2 393.5,55.8 396.4,44.8 398.6,38.2 402.3,37.5 404.5,33.0 410.3,23.2 629.4,23.2 629.4,234.6 628.0,233.8 626.6,235.2 625.2,235.1 623.8,234.7 622.5,234.1 621.1,235.6 619.7,235.7 618.3,235.0 616.9,235.0 615.5,234.3 614.1,233.8 612.7,234.8 611.4,235.4 610.0,234.1 608.6,236.0 607.2,234.6 605.8,234.6 604.4,234.2 603.0,236.7 601.6,236.1 600.3,236.5 598.9,235.8 597.5,234.4 596.1,235.2 594.7,235.6 593.3,234.7 591.9,236.9 590.5,235.4 589.1,234.9 587.8,236.7 586.4,234.9 585.0,237.1 583.6,235.9 582.2,236.2 580.8,235.7 579.4,236.1 578.0,235.3 576.7,235.0 575.3,237.2 573.9,235.6 572.5,237.1 571.1,235.6 569.7,237.6 568.3,237.5 566.9,237.2 565.6,237.2 564.2,236.8 562.8,237.2 561.4,235.7 560.0,236.7 558.7,237.6 557.5,235.2 556.2,234.7 554.9,237.0 553.6,234.6 552.4,234.2 551.1,235.3 549.8,234.2 548.5,235.4 547.2,233.4 546.0,235.1 544.7,233.1 543.4,233.6 542.1,234.2 540.9,233.3 539.6,233.7 538.3,232.8 537.0,230.9 535.8,232.8 534.5,231.8 533.2,230.8 531.9,230.2 530.7,231.7 529.4,230.5 529.4,216.0 529.4,207.5 503.0,206.8 500.5,208.0 499.5,211.0 499.5,230.0 499.5,230.3 497.3,231.4 495.2,231.5 493.0,231.4 490.9,229.3 488.7,230.6 486.6,230.2 484.4,230.5 482.2,229.4 480.1,229.6 477.9,230.3 475.8,229.7 473.6,230.3 471.5,229.2 469.3,229.4 467.2,231.0 465.0,230.5 462.8,231.8 460.7,232.9 458.5,232.4 456.3,234.9 454.2,234.1 452.0,235.6 450.0,234.7 448.0,235.1 446.0,234.2 444.0,232.3 442.0,232.9 440.0,231.5 437.8,232.1 435.6,230.7 433.3,230.7 431.1,231.6 428.9,230.3 426.7,232.0 424.5,231.9 422.2,230.2 420.0,231.7 417.8,231.2 415.6,231.5 413.4,232.2 411.2,232.3 408.9,230.8 406.7,231.9 404.5,231.0 403.2,231.7 402.0,231.8 400.7,232.4 399.4,230.6 398.2,230.3 396.9,232.1 395.6,230.9 394.3,231.0 393.1,232.1 391.8,230.6 390.5,232.3 389.3,231.3 388.0,230.3 386.7,232.4 385.5,231.6 384.2,230.4 382.9,232.2 381.7,232.1 380.4,232.0 379.1,231.8 377.9,232.6 376.6,230.3 375.3,232.6 374.0,231.8 372.8,230.8 371.5,231.7 370.2,231.1 369.0,231.8 367.7,232.0 366.4,231.5 365.2,230.5 363.9,231.2 362.6,231.0 361.4,232.1 360.1,232.5 358.8,232.2 357.6,231.6 356.3,230.7 355.0,232.0 353.7,231.0 352.5,232.7 351.2,230.7 349.9,232.7 348.7,230.4 347.4,232.2 346.1,231.2 344.9,231.7 343.6,231.4 342.3,231.1 341.1,231.4 339.8,232.3 338.5,231.2 337.2,231.3 336.0,232.3 334.7,230.8 333.4,231.3 332.2,231.7 330.9,231.7 329.6,230.8 328.4,232.3 327.1,231.6 325.8,230.7 324.6,231.3 323.3,230.6 322.0,231.3 320.8,230.7 319.5,231.1 318.2,231.8 316.9,232.1 315.7,231.2 314.4,231.6 313.1,231.7 311.9,231.9 310.6,232.7 309.3,231.0 308.1,232.4 306.8,231.9 305.5,232.7 304.3,232.2 303.0,230.6 301.7,230.7 300.5,232.5 299.2,231.3 297.9,232.0 296.6,230.8 295.4,231.9 294.1,231.6 292.8,231.7 291.6,230.6 290.3,231.8"/></clipPath>
</defs>
<g id="panelB">
<g clip-path="url(#surfclip)">
<rect x="286" y="22" width="345" height="218" fill="url(#surfg)"/>
<rect x="286" y="22" width="345" height="218" fill="url(#surfv)"/>
</g><defs><linearGradient id="bl" gradientUnits="userSpaceOnUse" x1="290" y1="0" x2="630" y2="0"><stop offset="0" stop-color="#3c9cfa" stop-opacity="0.32"/><stop offset="0.5" stop-color="#3690fa" stop-opacity="0.2"/><stop offset="1" stop-color="#3a70fa" stop-opacity="0.05"/></linearGradient>
<linearGradient id="bd" gradientUnits="userSpaceOnUse" x1="290" y1="0" x2="630" y2="0"><stop offset="0" stop-color="#1448d0" stop-opacity="0.22"/><stop offset="0.6" stop-color="#1438d0" stop-opacity="0.16"/><stop offset="1" stop-color="#1820c8" stop-opacity="0.15"/></linearGradient></defs><g clip-path="url(#surfclip)">
<g filter="url(#b15)">
<rect x="286" y="24" width="345" height="5.5" fill="url(#bl)" transform="rotate(0.4 290 24)"/>
<rect x="286" y="19.5" width="345" height="3.2" fill="url(#bd)" transform="rotate(0.4 290 24)"/>
<rect x="286" y="39.5" width="345" height="5.5" fill="url(#bl)" transform="rotate(0.4 290 39.5)"/>
<rect x="286" y="35.0" width="345" height="3.2" fill="url(#bd)" transform="rotate(0.4 290 39.5)"/>
<rect x="286" y="58" width="345" height="5.5" fill="url(#bl)" transform="rotate(0.4 290 58)"/>
<rect x="286" y="53.5" width="345" height="3.2" fill="url(#bd)" transform="rotate(0.4 290 58)"/>
<rect x="286" y="79.5" width="345" height="5.5" fill="url(#bl)" transform="rotate(0.4 290 79.5)"/>
<rect x="286" y="75.0" width="345" height="3.2" fill="url(#bd)" transform="rotate(0.4 290 79.5)"/>
<rect x="286" y="106" width="345" height="5.5" fill="url(#bl)" transform="rotate(0.4 290 106)"/>
<rect x="286" y="101.5" width="345" height="3.2" fill="url(#bd)" transform="rotate(0.4 290 106)"/>
<rect x="286" y="135.5" width="345" height="5.5" fill="url(#bl)" transform="rotate(0.4 290 135.5)"/>
<rect x="286" y="131.0" width="345" height="3.2" fill="url(#bd)" transform="rotate(0.4 290 135.5)"/>
<rect x="286" y="173" width="345" height="5.5" fill="url(#bl)" transform="rotate(0.4 290 173)"/>
<rect x="286" y="168.5" width="345" height="3.2" fill="url(#bd)" transform="rotate(0.4 290 173)"/>
</g>
<rect x="286" y="176" width="240" height="9" fill="#0c38c0" opacity="0.3" filter="url(#b2)"/>
<rect x="286" y="186" width="125" height="50" fill="#0c3cc8" opacity="0.14" filter="url(#b3)"/>
<rect x="288" y="196" width="6" height="40" fill="#0830a8" opacity="0.4" filter="url(#b15)"/>
<g filter="url(#b5)">
<polygon points="540,22 640,22 640,70 570,66 545,50" fill="#2028ec" opacity="0.6"/>
<polygon points="548,152 575,160 600,180 640,196 640,245 552,245 540,200" fill="#3a1ee4" opacity="0.8"/>
</g>
<rect x="590" y="40.5" width="38" height="3" fill="#6018c8" opacity="0.45" filter="url(#b15)"/>
<g mask="url(#nzm)" opacity="0.7"><rect x="286" y="22" width="345" height="218" filter="url(#nzd)" opacity="0.6"/><rect x="286" y="22" width="345" height="218" filter="url(#nzl)" opacity="0.3"/></g>
<polygon points="539.0,81.5 543.4,75.8 546.0,77.5 549.2,77.3 553.0,75.0 556.5,72.2 560.0,69.0 564.0,70.0 568.0,71.0 572.0,67.0 575.0,64.0 577.8,62.3 581.0,64.5 585.0,66.5 589.0,68.0 593.7,69.7 597.0,67.5 602.0,64.5 606.0,65.2 610.7,63.4 614.0,61.0 617.0,56.5 621.0,51.0 623.5,47.0 625.5,45.4 632.0,44.0 632,120 556,120 552,95" fill="#2a90f4" stroke="#2a90f4" stroke-width="4" stroke-linejoin="round" opacity="0.8" filter="url(#b2)"/>
<g filter="url(#b05)">
<polygon points="539.0,81.5 543.4,75.8 546.0,77.5 549.2,77.3 553.0,75.0 556.5,72.2 560.0,69.0 564.0,70.0 568.0,71.0 572.0,67.0 575.0,64.0 577.8,62.3 581.0,64.5 585.0,66.5 589.0,68.0 593.7,69.7 597.0,67.5 602.0,64.5 606.0,65.2 610.7,63.4 614.0,61.0 617.0,56.5 621.0,51.0 623.5,47.0 625.5,45.4 632.0,44.0 632,120 556,120 552,95" fill="#24d8dc"/>
</g>
<polygon points="552,84 566,78 584,74 600,76 614,70 632,62 632,120 556,120" fill="#2cd8a0" filter="url(#b3)"/>
<g filter="url(#b2)">
<polygon points="553,86 566,82 580,80 596,82 612,78 632,76 632,200 600,170 570,140 553,110" fill="#48dc54"/>
</g>
<g filter="url(#b3)">
<polygon points="562,100 590,96 612,100 640,104 640,180 610,160 580,136 560,118" fill="#7ce430"/>
</g>
<polygon points="622.5,53 625.5,45.8 631,44.5 631,60 626,61" fill="#74dc24" filter="url(#b1)"/>
</g><defs>
<linearGradient id="cl1" gradientUnits="userSpaceOnUse" x1="0" y1="103" x2="0" y2="133">
<stop offset="0" stop-color="#e4ea28"/><stop offset="0.18" stop-color="#a4e02c"/><stop offset="0.36" stop-color="#44cc48"/><stop offset="0.58" stop-color="#20c4b4"/><stop offset="0.78" stop-color="#269ce8"/><stop offset="1" stop-color="#2258f0"/>
</linearGradient>
<linearGradient id="cl2" gradientUnits="userSpaceOnUse" x1="594" y1="130" x2="572.5" y2="169">
<stop offset="0" stop-color="#94e42c"/><stop offset="0.22" stop-color="#4cd440"/><stop offset="0.46" stop-color="#20c8a4"/><stop offset="0.66" stop-color="#24aee4"/><stop offset="0.86" stop-color="#2460f0"/><stop offset="1" stop-color="#2a3cee"/>
</linearGradient>
</defs><g clip-path="url(#surfclip)">
<g filter="url(#b1)">
<polygon points="493,97 500,100 530,103 558,106 562,114 556,137 550.7,135 533,130.7 514,129 499.6,127 490.8,113" fill="url(#cl1)"/>
<polygon points="556,106 572,116 592,128 612,142 632,154 632,197 610,188 592,177 572,160 559,148 551,136" fill="url(#cl2)"/>
</g>
<polygon points="536,128 550,131 560,141 570,153 584,166 600,178 590,186 560,172 540,150" fill="#2040f0" filter="url(#b2)"/>
<path d="M556,107 L575,115 L595,129 L615,141 L634,152" fill="none" stroke="#bce82c" stroke-width="10" opacity="0.75" filter="url(#b2)"/>
<g filter="url(#b05)">
<polygon points="493.3,98.0 494.5,95.0 496.0,93.4 501.0,91.2 504.0,88.2 507.0,87.0 510.5,85.3 513.0,83.0 515.0,81.0 518.0,81.5 521.5,81.0 523.0,79.0 524.4,76.6 525.8,79.0 527.3,81.7 529.5,81.0 531.7,81.0 533.5,80.0 535.4,79.5 537.0,81.0 539.0,82.4 543.0,83.0 546.3,83.9 549.0,83.0 551.0,82.0 552.2,81.0 553.5,83.0 555.0,86.0 557.3,91.9 558.0,97.7 557.0,101.4 559.0,106.0 560.0,110.5 556.0,110.0 548.0,108.8 538.0,108.5 525.0,108.0 512.0,107.5 500.0,106.0 495.0,103.0" fill="#eeee22"/>
<polygon points="559.5,113.5 562.0,112.0 566.0,111.3 571.0,111.0 572.2,109.2 573.4,111.5 578.0,113.0 582.0,115.5 585.0,117.5 589.0,121.0 592.0,125.0 593.0,128.0 590.0,129.5 584.4,130.7 578.0,128.0 572.0,125.0 566.8,122.5 561.0,118.0" fill="#eaec24"/>
<polygon points="595.5,140.0 597.0,138.0 600.0,137.0 603.0,136.5 605.0,135.8 608.0,137.0 611.0,138.0 615.0,140.0 619.0,142.0 623.0,144.0 626.8,146.0 632.0,149.0 632.0,161.0 625.0,159.5 618.0,157.7 612.0,155.0 607.8,152.0 602.0,148.0 597.0,144.0" fill="#e6ea28"/>
</g>
<g filter="url(#b1)">
<polygon points="493.3,98 496,93.4 501,91.2 504,88.5 506,96 503,105 497,104" fill="#b4e42c" opacity="0.9"/>
<polygon points="500,104 520,105.5 545,106.8 559,108 560,112 545,111 520,110 500,108.5" fill="#c4e82a" opacity="0.85"/>
<polygon points="618,118 632,116 632,140 622,136" fill="#c4e82c" opacity="0.7"/>
</g>
<g stroke-linecap="round">
<line x1="535.9" y1="110.3" x2="534.3" y2="128.6" stroke="#d8f060" stroke-width="0.79" opacity="0.41"/>
<line x1="511.9" y1="103.6" x2="510.3" y2="118.8" stroke="#107060" stroke-width="0.45" opacity="0.31"/>
<line x1="512.0" y1="108.4" x2="510.4" y2="121.3" stroke="#187858" stroke-width="0.80" opacity="0.25"/>
<line x1="504.9" y1="107.0" x2="503.3" y2="117.5" stroke="#186078" stroke-width="0.51" opacity="0.26"/>
<line x1="558.9" y1="113.0" x2="557.3" y2="126.7" stroke="#70e8d8" stroke-width="0.88" opacity="0.25"/>
<line x1="508.6" y1="109.7" x2="507.0" y2="120.6" stroke="#187858" stroke-width="0.47" opacity="0.25"/>
<line x1="500.2" y1="104.4" x2="498.6" y2="121.6" stroke="#0c5a50" stroke-width="0.43" opacity="0.41"/>
<line x1="518.7" y1="105.9" x2="517.1" y2="125.2" stroke="#187858" stroke-width="0.43" opacity="0.41"/>
<line x1="558.4" y1="107.0" x2="556.8" y2="131.3" stroke="#d8f060" stroke-width="0.61" opacity="0.34"/>
<line x1="520.1" y1="109.8" x2="518.5" y2="122.9" stroke="#70e8d8" stroke-width="0.52" opacity="0.23"/>
<line x1="548.4" y1="109.3" x2="546.8" y2="127.5" stroke="#a0f080" stroke-width="0.45" opacity="0.39"/>
<line x1="543.9" y1="111.3" x2="542.3" y2="130.3" stroke="#186078" stroke-width="0.66" opacity="0.26"/>
<line x1="519.2" y1="104.9" x2="517.6" y2="121.0" stroke="#d8f060" stroke-width="0.56" opacity="0.28"/>
<line x1="507.4" y1="103.4" x2="505.8" y2="118.1" stroke="#50d0f0" stroke-width="0.42" opacity="0.24"/>
<line x1="559.1" y1="110.7" x2="557.5" y2="127.9" stroke="#1c6888" stroke-width="0.53" opacity="0.30"/>
<line x1="537.7" y1="106.3" x2="536.1" y2="130.6" stroke="#187858" stroke-width="0.50" opacity="0.30"/>
<line x1="558.8" y1="110.9" x2="557.2" y2="125.2" stroke="#50d0f0" stroke-width="0.62" opacity="0.23"/>
<line x1="505.6" y1="108.7" x2="504.0" y2="119.3" stroke="#1c6888" stroke-width="0.89" opacity="0.46"/>
<line x1="525.0" y1="107.7" x2="523.4" y2="126.4" stroke="#205898" stroke-width="0.85" opacity="0.34"/>
<line x1="503.2" y1="108.3" x2="501.6" y2="121.3" stroke="#187858" stroke-width="0.49" opacity="0.46"/>
<line x1="527.5" y1="108.1" x2="525.9" y2="124.9" stroke="#186078" stroke-width="0.79" opacity="0.44"/>
<line x1="540.5" y1="110.1" x2="538.9" y2="128.8" stroke="#0c5a50" stroke-width="0.82" opacity="0.40"/>
<line x1="513.0" y1="110.2" x2="511.4" y2="124.5" stroke="#a0f080" stroke-width="0.69" opacity="0.36"/>
<line x1="496.7" y1="105.9" x2="495.1" y2="117.6" stroke="#50d0f0" stroke-width="0.65" opacity="0.27"/>
<line x1="539.1" y1="107.9" x2="537.5" y2="123.8" stroke="#187858" stroke-width="0.82" opacity="0.31"/>
<line x1="551.7" y1="111.2" x2="550.1" y2="132.6" stroke="#70e8d8" stroke-width="0.48" opacity="0.33"/>
<line x1="549.5" y1="112.7" x2="547.9" y2="127.3" stroke="#50d0f0" stroke-width="0.79" opacity="0.24"/>
<line x1="533.2" y1="109.6" x2="531.6" y2="124.4" stroke="#0c5a50" stroke-width="0.90" opacity="0.28"/>
<line x1="508.5" y1="107.1" x2="506.9" y2="123.0" stroke="#0c5a50" stroke-width="0.76" opacity="0.25"/>
<line x1="559.1" y1="113.8" x2="557.5" y2="125.5" stroke="#d8f060" stroke-width="0.49" opacity="0.28"/>
<line x1="508.4" y1="103.2" x2="506.8" y2="121.4" stroke="#1c6888" stroke-width="0.50" opacity="0.22"/>
<line x1="542.0" y1="108.2" x2="540.4" y2="125.0" stroke="#50d0f0" stroke-width="0.74" opacity="0.42"/>
<line x1="531.0" y1="111.5" x2="529.4" y2="125.4" stroke="#205898" stroke-width="0.57" opacity="0.36"/>
<line x1="533.2" y1="111.6" x2="531.6" y2="128.4" stroke="#1c6888" stroke-width="0.58" opacity="0.39"/>
<line x1="505.1" y1="106.9" x2="503.5" y2="121.9" stroke="#70e8d8" stroke-width="0.58" opacity="0.35"/>
<line x1="553.2" y1="106.5" x2="551.6" y2="124.1" stroke="#1c6888" stroke-width="0.56" opacity="0.36"/>
<line x1="552.1" y1="110.3" x2="550.5" y2="127.2" stroke="#50d0f0" stroke-width="0.89" opacity="0.27"/>
<line x1="520.3" y1="110.6" x2="518.7" y2="127.6" stroke="#205898" stroke-width="0.55" opacity="0.42"/>
<line x1="512.1" y1="103.4" x2="510.5" y2="126.7" stroke="#205898" stroke-width="0.41" opacity="0.24"/>
<line x1="538.2" y1="112.0" x2="536.6" y2="123.4" stroke="#107060" stroke-width="0.41" opacity="0.45"/>
<line x1="530.1" y1="106.6" x2="528.5" y2="129.1" stroke="#70e8d8" stroke-width="0.82" opacity="0.32"/>
<line x1="542.2" y1="107.6" x2="540.6" y2="126.4" stroke="#d8f060" stroke-width="0.46" opacity="0.20"/>
<line x1="514.1" y1="108.4" x2="512.5" y2="123.7" stroke="#d8f060" stroke-width="0.58" opacity="0.32"/>
<line x1="543.7" y1="109.9" x2="542.1" y2="122.1" stroke="#187858" stroke-width="0.45" opacity="0.41"/>
<line x1="540.0" y1="106.8" x2="538.4" y2="125.5" stroke="#50d0f0" stroke-width="0.82" opacity="0.41"/>
<line x1="526.4" y1="109.2" x2="524.8" y2="126.5" stroke="#50d0f0" stroke-width="0.43" opacity="0.41"/>
<line x1="549.5" y1="111.0" x2="547.9" y2="126.9" stroke="#187858" stroke-width="0.47" opacity="0.47"/>
<line x1="526.6" y1="108.2" x2="525.0" y2="124.3" stroke="#107060" stroke-width="0.67" opacity="0.33"/>
<line x1="499.1" y1="107.4" x2="497.5" y2="118.1" stroke="#186078" stroke-width="0.41" opacity="0.40"/>
<line x1="542.2" y1="112.5" x2="540.6" y2="131.5" stroke="#d8f060" stroke-width="0.46" opacity="0.23"/>
<line x1="535.3" y1="110.8" x2="533.7" y2="121.6" stroke="#a0f080" stroke-width="0.62" opacity="0.38"/>
<line x1="507.7" y1="104.2" x2="506.1" y2="124.7" stroke="#107060" stroke-width="0.45" opacity="0.21"/>
<line x1="520.3" y1="104.4" x2="518.7" y2="119.0" stroke="#0c5a50" stroke-width="0.71" opacity="0.32"/>
<line x1="496.6" y1="102.7" x2="495.0" y2="121.9" stroke="#205898" stroke-width="0.59" opacity="0.48"/>
<line x1="499.6" y1="107.2" x2="498.0" y2="117.0" stroke="#1c6888" stroke-width="0.87" opacity="0.29"/>
<line x1="531.2" y1="106.3" x2="529.6" y2="120.6" stroke="#205898" stroke-width="0.47" opacity="0.36"/>
<line x1="511.0" y1="105.8" x2="509.4" y2="124.5" stroke="#0c5a50" stroke-width="0.57" opacity="0.21"/>
<line x1="532.7" y1="105.1" x2="531.1" y2="128.8" stroke="#187858" stroke-width="0.84" opacity="0.27"/>
<line x1="526.7" y1="106.7" x2="525.1" y2="127.3" stroke="#0c5a50" stroke-width="0.82" opacity="0.32"/>
<line x1="556.5" y1="109.7" x2="554.9" y2="131.4" stroke="#d8f060" stroke-width="0.73" opacity="0.44"/>
<line x1="548.5" y1="107.1" x2="546.9" y2="128.6" stroke="#107060" stroke-width="0.87" opacity="0.29"/>
<line x1="541.1" y1="111.1" x2="539.5" y2="125.1" stroke="#a0f080" stroke-width="0.80" opacity="0.36"/>
<line x1="523.7" y1="110.1" x2="522.1" y2="124.1" stroke="#1c6888" stroke-width="0.49" opacity="0.26"/>
<line x1="500.1" y1="102.6" x2="498.5" y2="117.4" stroke="#187858" stroke-width="0.64" opacity="0.47"/>
<line x1="544.7" y1="105.8" x2="543.1" y2="126.5" stroke="#50d0f0" stroke-width="0.63" opacity="0.28"/>
<line x1="508.3" y1="107.5" x2="506.7" y2="117.4" stroke="#50d0f0" stroke-width="0.53" opacity="0.24"/>
<line x1="513.8" y1="104.5" x2="512.2" y2="120.4" stroke="#187858" stroke-width="0.57" opacity="0.47"/>
<line x1="544.1" y1="108.0" x2="542.5" y2="122.4" stroke="#187858" stroke-width="0.87" opacity="0.34"/>
<line x1="503.5" y1="107.3" x2="501.9" y2="119.0" stroke="#70e8d8" stroke-width="0.76" opacity="0.21"/>
<line x1="532.8" y1="109.5" x2="531.2" y2="126.3" stroke="#a0f080" stroke-width="0.49" opacity="0.37"/>
<line x1="584.4" y1="130.6" x2="581.4" y2="157.6" stroke="#107060" stroke-width="0.50" opacity="0.30"/>
<line x1="561.2" y1="122.0" x2="558.2" y2="140.0" stroke="#187858" stroke-width="0.79" opacity="0.27"/>
<line x1="587.9" y1="132.5" x2="584.9" y2="154.9" stroke="#a0f080" stroke-width="0.76" opacity="0.39"/>
<line x1="575.3" y1="132.5" x2="572.3" y2="141.9" stroke="#0c5a50" stroke-width="0.43" opacity="0.32"/>
<line x1="587.0" y1="132.1" x2="584.0" y2="151.1" stroke="#205898" stroke-width="0.84" opacity="0.44"/>
<line x1="627.4" y1="157.8" x2="624.4" y2="181.4" stroke="#107060" stroke-width="0.44" opacity="0.41"/>
<line x1="580.9" y1="128.9" x2="577.9" y2="150.4" stroke="#d8f060" stroke-width="0.51" opacity="0.37"/>
<line x1="559.3" y1="120.2" x2="556.3" y2="136.2" stroke="#187858" stroke-width="0.47" opacity="0.41"/>
<line x1="558.9" y1="122.1" x2="555.9" y2="138.1" stroke="#70e8d8" stroke-width="0.47" opacity="0.31"/>
<line x1="593.3" y1="143.1" x2="590.3" y2="155.1" stroke="#107060" stroke-width="0.44" opacity="0.29"/>
<line x1="575.9" y1="125.6" x2="572.9" y2="146.0" stroke="#107060" stroke-width="0.65" opacity="0.33"/>
<line x1="576.2" y1="132.0" x2="573.2" y2="150.2" stroke="#d8f060" stroke-width="0.78" opacity="0.21"/>
<line x1="585.7" y1="138.4" x2="582.7" y2="147.5" stroke="#107060" stroke-width="0.62" opacity="0.42"/>
<line x1="617.6" y1="156.5" x2="614.6" y2="178.1" stroke="#50d0f0" stroke-width="0.81" opacity="0.25"/>
<line x1="585.9" y1="132.1" x2="582.9" y2="148.3" stroke="#205898" stroke-width="0.56" opacity="0.40"/>
<line x1="560.5" y1="120.9" x2="557.5" y2="139.7" stroke="#186078" stroke-width="0.47" opacity="0.27"/>
<line x1="584.1" y1="138.3" x2="581.1" y2="156.9" stroke="#107060" stroke-width="0.46" opacity="0.41"/>
<line x1="572.7" y1="126.4" x2="569.7" y2="141.1" stroke="#107060" stroke-width="0.45" opacity="0.47"/>
<line x1="596.7" y1="139.0" x2="593.7" y2="162.2" stroke="#187858" stroke-width="0.46" opacity="0.49"/>
<line x1="581.1" y1="137.1" x2="578.1" y2="149.7" stroke="#187858" stroke-width="0.73" opacity="0.26"/>
<line x1="569.7" y1="125.8" x2="566.7" y2="142.8" stroke="#107060" stroke-width="0.61" opacity="0.49"/>
<line x1="561.8" y1="126.1" x2="558.8" y2="132.8" stroke="#187858" stroke-width="0.58" opacity="0.46"/>
<line x1="591.9" y1="136.4" x2="588.9" y2="160.4" stroke="#1c6888" stroke-width="0.78" opacity="0.36"/>
<line x1="575.6" y1="128.1" x2="572.6" y2="143.8" stroke="#d8f060" stroke-width="0.60" opacity="0.32"/>
<line x1="568.4" y1="128.6" x2="565.4" y2="142.0" stroke="#107060" stroke-width="0.78" opacity="0.37"/>
<line x1="578.5" y1="135.6" x2="575.5" y2="151.7" stroke="#50d0f0" stroke-width="0.83" opacity="0.34"/>
<line x1="603.5" y1="149.4" x2="600.5" y2="162.8" stroke="#1c6888" stroke-width="0.71" opacity="0.43"/>
<line x1="617.4" y1="150.0" x2="614.4" y2="174.9" stroke="#1c6888" stroke-width="0.64" opacity="0.36"/>
<line x1="609.3" y1="148.9" x2="606.3" y2="173.2" stroke="#d8f060" stroke-width="0.80" opacity="0.31"/>
<line x1="584.5" y1="135.9" x2="581.5" y2="154.2" stroke="#205898" stroke-width="0.41" opacity="0.34"/>
<line x1="614.5" y1="154.2" x2="611.5" y2="175.1" stroke="#50d0f0" stroke-width="0.86" opacity="0.26"/>
<line x1="578.0" y1="133.2" x2="575.0" y2="143.4" stroke="#a0f080" stroke-width="0.74" opacity="0.38"/>
<line x1="619.2" y1="158.3" x2="616.2" y2="175.3" stroke="#1c6888" stroke-width="0.46" opacity="0.28"/>
<line x1="583.0" y1="136.9" x2="580.0" y2="150.4" stroke="#50d0f0" stroke-width="0.78" opacity="0.28"/>
<line x1="596.6" y1="139.3" x2="593.6" y2="161.8" stroke="#205898" stroke-width="0.74" opacity="0.28"/>
<line x1="598.4" y1="145.5" x2="595.4" y2="159.6" stroke="#70e8d8" stroke-width="0.80" opacity="0.26"/>
<line x1="616.2" y1="149.9" x2="613.2" y2="177.1" stroke="#187858" stroke-width="0.51" opacity="0.48"/>
<line x1="562.6" y1="122.4" x2="559.6" y2="142.0" stroke="#50d0f0" stroke-width="0.61" opacity="0.28"/>
<line x1="596.6" y1="146.3" x2="593.6" y2="157.6" stroke="#1c6888" stroke-width="0.57" opacity="0.52"/>
<line x1="588.8" y1="134.1" x2="585.8" y2="152.7" stroke="#1c6888" stroke-width="0.50" opacity="0.31"/>
<line x1="601.4" y1="146.6" x2="598.4" y2="164.9" stroke="#d8f060" stroke-width="0.47" opacity="0.39"/>
<line x1="595.9" y1="137.6" x2="592.9" y2="156.0" stroke="#187858" stroke-width="0.51" opacity="0.53"/>
<line x1="608.9" y1="153.1" x2="605.9" y2="167.3" stroke="#107060" stroke-width="0.46" opacity="0.45"/>
<line x1="582.5" y1="132.4" x2="579.5" y2="153.8" stroke="#187858" stroke-width="0.81" opacity="0.47"/>
<line x1="616.7" y1="156.5" x2="613.7" y2="177.1" stroke="#d8f060" stroke-width="0.81" opacity="0.27"/>
<line x1="572.3" y1="125.8" x2="569.3" y2="140.9" stroke="#d8f060" stroke-width="0.87" opacity="0.25"/>
<line x1="592.0" y1="134.6" x2="589.0" y2="162.2" stroke="#70e8d8" stroke-width="0.65" opacity="0.34"/>
<line x1="628.3" y1="165.8" x2="625.3" y2="175.1" stroke="#a0f080" stroke-width="0.80" opacity="0.20"/>
<line x1="630.9" y1="165.5" x2="627.9" y2="178.1" stroke="#107060" stroke-width="0.65" opacity="0.34"/>
<line x1="608.9" y1="152.6" x2="605.9" y2="168.4" stroke="#205898" stroke-width="0.43" opacity="0.53"/>
<line x1="589.6" y1="135.2" x2="586.6" y2="160.7" stroke="#0c5a50" stroke-width="0.54" opacity="0.27"/>
<line x1="565.0" y1="123.0" x2="562.0" y2="145.2" stroke="#187858" stroke-width="0.52" opacity="0.51"/>
<line x1="591.0" y1="135.2" x2="588.0" y2="151.7" stroke="#70e8d8" stroke-width="0.41" opacity="0.27"/>
<line x1="576.3" y1="129.6" x2="573.3" y2="145.8" stroke="#186078" stroke-width="0.50" opacity="0.54"/>
<line x1="616.7" y1="149.5" x2="613.7" y2="172.7" stroke="#50d0f0" stroke-width="0.43" opacity="0.30"/>
<line x1="586.7" y1="139.1" x2="583.7" y2="152.8" stroke="#0c5a50" stroke-width="0.72" opacity="0.44"/>
<line x1="560.6" y1="115.8" x2="557.6" y2="140.1" stroke="#187858" stroke-width="0.59" opacity="0.52"/>
<line x1="630.9" y1="165.5" x2="627.9" y2="185.8" stroke="#107060" stroke-width="0.89" opacity="0.38"/>
<line x1="630.6" y1="159.9" x2="627.6" y2="180.4" stroke="#187858" stroke-width="0.40" opacity="0.36"/>
<line x1="604.2" y1="149.6" x2="601.2" y2="167.5" stroke="#0c5a50" stroke-width="0.85" opacity="0.36"/>
<line x1="622.6" y1="154.9" x2="619.6" y2="170.9" stroke="#a0f080" stroke-width="0.47" opacity="0.32"/>
<line x1="575.3" y1="133.6" x2="572.3" y2="151.2" stroke="#107060" stroke-width="0.44" opacity="0.49"/>
<line x1="567.6" y1="126.3" x2="564.6" y2="139.7" stroke="#205898" stroke-width="0.89" opacity="0.41"/>
<line x1="609.2" y1="145.8" x2="606.2" y2="163.5" stroke="#205898" stroke-width="0.85" opacity="0.34"/>
<line x1="598.0" y1="142.5" x2="595.0" y2="164.8" stroke="#70e8d8" stroke-width="0.67" opacity="0.25"/>
<line x1="611.4" y1="147.5" x2="608.4" y2="168.9" stroke="#d8f060" stroke-width="0.51" opacity="0.20"/>
<line x1="575.0" y1="131.4" x2="572.0" y2="143.3" stroke="#1c6888" stroke-width="0.75" opacity="0.32"/>
<line x1="622.5" y1="160.7" x2="619.5" y2="176.8" stroke="#186078" stroke-width="0.86" opacity="0.45"/>
<line x1="585.0" y1="135.6" x2="582.0" y2="154.9" stroke="#50d0f0" stroke-width="0.55" opacity="0.40"/>
<line x1="570.2" y1="130.7" x2="567.2" y2="138.5" stroke="#0c5a50" stroke-width="0.71" opacity="0.31"/>
<line x1="565.2" y1="123.5" x2="562.2" y2="143.5" stroke="#187858" stroke-width="0.58" opacity="0.29"/>
<line x1="594.1" y1="141.4" x2="591.1" y2="155.0" stroke="#186078" stroke-width="0.46" opacity="0.47"/>
<line x1="622.6" y1="156.7" x2="619.6" y2="174.5" stroke="#50d0f0" stroke-width="0.77" opacity="0.36"/>
<line x1="577.1" y1="133.8" x2="574.1" y2="148.9" stroke="#0c5a50" stroke-width="0.75" opacity="0.49"/>
<line x1="601.2" y1="148.8" x2="598.2" y2="167.3" stroke="#70e8d8" stroke-width="0.85" opacity="0.31"/>
<line x1="583.9" y1="130.9" x2="580.9" y2="151.3" stroke="#50d0f0" stroke-width="0.72" opacity="0.33"/>
<line x1="559.9" y1="119.3" x2="556.9" y2="135.7" stroke="#187858" stroke-width="0.51" opacity="0.43"/>
<line x1="627.3" y1="156.9" x2="624.3" y2="174.4" stroke="#d8f060" stroke-width="0.76" opacity="0.21"/>
<line x1="580.2" y1="132.6" x2="577.2" y2="149.9" stroke="#a0f080" stroke-width="0.78" opacity="0.22"/>
<line x1="576.9" y1="128.4" x2="573.9" y2="141.9" stroke="#50d0f0" stroke-width="0.48" opacity="0.29"/>
<line x1="573.8" y1="126.2" x2="570.8" y2="150.4" stroke="#186078" stroke-width="0.90" opacity="0.30"/>
<line x1="604.7" y1="146.5" x2="601.7" y2="165.1" stroke="#107060" stroke-width="0.65" opacity="0.29"/>
<line x1="608.2" y1="148.7" x2="605.2" y2="167.9" stroke="#70e8d8" stroke-width="0.68" opacity="0.29"/>
<line x1="594.7" y1="145.6" x2="591.7" y2="155.5" stroke="#107060" stroke-width="0.79" opacity="0.38"/>
<line x1="619.0" y1="153.7" x2="616.0" y2="169.6" stroke="#205898" stroke-width="0.66" opacity="0.50"/>
<line x1="593.5" y1="142.5" x2="590.5" y2="153.3" stroke="#d8f060" stroke-width="0.45" opacity="0.27"/>
<line x1="604.1" y1="150.3" x2="601.1" y2="165.5" stroke="#1c6888" stroke-width="0.72" opacity="0.37"/>
<line x1="610.9" y1="148.5" x2="607.9" y2="167.8" stroke="#186078" stroke-width="0.55" opacity="0.34"/>
<line x1="582.6" y1="138.8" x2="579.6" y2="150.0" stroke="#186078" stroke-width="0.87" opacity="0.30"/>
<line x1="615.7" y1="157.7" x2="612.7" y2="171.9" stroke="#187858" stroke-width="0.61" opacity="0.27"/>
</g>
<path d="M335.0,133.5 L334.7,137.4 L335.3,140.9 L337.3,143.4 L340.5,144.3 L343.7,143.5 L345.8,141.0 L346.2,137.4 L345.3,133.1 L344.3,128.9 L344.4,125.4 L346.3,123.3 L349.4,122.7 L352.5,123.6 L354.3,126.0 L354.3,129.2 L353.0,132.7 L351.8,136.0 L351.9,138.5 L353.8,140.0 L356.8,140.3 L359.8,139.4 L361.6,137.6 L361.9,135.1 L361.2,132.4 L360.8,129.7 L361.5,127.5 L363.5,126.0 L366.4,125.5 L369.2,125.9 L371.1,127.3 L371.9,129.5 L371.9,132.1 L372.1,135.0 L373.0,137.5 L374.8,139.4 L377.2,140.2 L379.5,139.8 L381.0,138.1 L381.7,135.4 L381.7,132.0 L381.6,128.5 L382.1,125.4 L383.5,123.3 L385.5,122.5 L387.6,123.2 L389.1,125.2 L389.5,128.4 L389.1,132.0 L388.6,135.6 L388.9,138.4 L390.5,140.2 L393.1,140.6 L396.0,139.7 L398.0,137.7 L398.5,135.0 L397.9,132.1 L397.3,129.5 L397.7,127.6 L399.9,126.5 L403.3,126.4 L406.9,127.2 L409.2,128.6 L409.7,130.4 L408.8,132.3 L407.9,134.2 L408.3,135.7 L410.4,136.7 L413.8,137.1 L417.0,136.8 L418.9,136.0 L419.0,134.5 L417.9,132.7 L416.9,130.6 L417.1,128.6 L418.9,127.0 L421.6,126.1 L424.1,126.3 L425.6,127.5 L425.8,129.9 L425.3,133.0 L424.9,136.6 L425.5,139.9 L427.2,142.4 L429.6,143.6 L432.0,143.2 L433.7,141.2 L434.5,137.7 L434.8,133.5 L435.1,129.0 L436.0,125.2 L437.8,122.6 L440.3,121.8 L442.8,122.8 L444.6,125.5 L445.5,129.4 L445.6,133.9 L445.6,138.1 L446.2,141.5 L447.8,143.5 L450.2,143.9 L452.7,142.8 L454.4,140.5 L454.7,137.5 L454.0,134.3 L453.2,131.3 L453.3,129.2 L454.8,127.9 L457.6,127.8 L460.6,128.6 L462.4,130.2 L462.6,132.3 L461.6,134.6 L460.5,136.8 L460.8,138.6 L462.9,139.9 L466.3,140.4 L469.8,140.1 L472.0,139.0 L472.5,137.1 L471.7,134.8 L471.0,132.4 L471.6,130.1 L473.8,128.4 L477.2,127.6 L480.4,127.9 L482.4,129.4 L482.8,131.9 L482.2,135.0 L483.5,146.6" fill="none" stroke="#3c8cf8" stroke-width="1.2" opacity="0.5" transform="translate(0.9,0.7)" stroke-linejoin="round"/>
<path d="M335.0,133.5 L334.7,137.4 L335.3,140.9 L337.3,143.4 L340.5,144.3 L343.7,143.5 L345.8,141.0 L346.2,137.4 L345.3,133.1 L344.3,128.9 L344.4,125.4 L346.3,123.3 L349.4,122.7 L352.5,123.6 L354.3,126.0 L354.3,129.2 L353.0,132.7 L351.8,136.0 L351.9,138.5 L353.8,140.0 L356.8,140.3 L359.8,139.4 L361.6,137.6 L361.9,135.1 L361.2,132.4 L360.8,129.7 L361.5,127.5 L363.5,126.0 L366.4,125.5 L369.2,125.9 L371.1,127.3 L371.9,129.5 L371.9,132.1 L372.1,135.0 L373.0,137.5 L374.8,139.4 L377.2,140.2 L379.5,139.8 L381.0,138.1 L381.7,135.4 L381.7,132.0 L381.6,128.5 L382.1,125.4 L383.5,123.3 L385.5,122.5 L387.6,123.2 L389.1,125.2 L389.5,128.4 L389.1,132.0 L388.6,135.6 L388.9,138.4 L390.5,140.2 L393.1,140.6 L396.0,139.7 L398.0,137.7 L398.5,135.0 L397.9,132.1 L397.3,129.5 L397.7,127.6 L399.9,126.5 L403.3,126.4 L406.9,127.2 L409.2,128.6 L409.7,130.4 L408.8,132.3 L407.9,134.2 L408.3,135.7 L410.4,136.7 L413.8,137.1 L417.0,136.8 L418.9,136.0 L419.0,134.5 L417.9,132.7 L416.9,130.6 L417.1,128.6 L418.9,127.0 L421.6,126.1 L424.1,126.3 L425.6,127.5 L425.8,129.9 L425.3,133.0 L424.9,136.6 L425.5,139.9 L427.2,142.4 L429.6,143.6 L432.0,143.2 L433.7,141.2 L434.5,137.7 L434.8,133.5 L435.1,129.0 L436.0,125.2 L437.8,122.6 L440.3,121.8 L442.8,122.8 L444.6,125.5 L445.5,129.4 L445.6,133.9 L445.6,138.1 L446.2,141.5 L447.8,143.5 L450.2,143.9 L452.7,142.8 L454.4,140.5 L454.7,137.5 L454.0,134.3 L453.2,131.3 L453.3,129.2 L454.8,127.9 L457.6,127.8 L460.6,128.6 L462.4,130.2 L462.6,132.3 L461.6,134.6 L460.5,136.8 L460.8,138.6 L462.9,139.9 L466.3,140.4 L469.8,140.1 L472.0,139.0 L472.5,137.1 L471.7,134.8 L471.0,132.4 L471.6,130.1 L473.8,128.4 L477.2,127.6 L480.4,127.9 L482.4,129.4 L482.8,131.9 L482.2,135.0 L483.5,146.6" fill="none" stroke="#1640c0" stroke-width="2.3" opacity="0.72" stroke-linejoin="round" filter="url(#b05)"/>
<path d="M483.5,146.6 Q488.0,150.0 489.5,147.0 Q491.0,144.0 493.5,143.0 Q496.0,142.0 498.0,144.5 Q500.0,147.0 502.4,147.8 Q504.7,148.7 506.4,146.3 Q508.0,144.0 510.0,139.0 Q512.0,134.0 513.0,136.5 Q514.0,139.0 513.5,142.0 Q513.0,145.0 515.5,146.0 Q518.0,147.0 520.5,148.5 Q523.0,150.0 525.5,148.0 Q528.0,146.0 530.1,146.8 Q532.3,147.5 534.1,149.8 Q536.0,152.0 537.4,155.0 Q538.7,158.0 540.4,161.0 Q542.0,164.0 543.5,168.5 Q545.0,173.0 544.0,177.0 L543.0,181.0" fill="none" stroke="#1a24b4" stroke-width="2.3" opacity="0.85" stroke-linecap="round" stroke-linejoin="round"/>
<path d="M543.0,181.0 Q541.9,187.0 543.0,191.0 Q544.0,195.0 545.5,198.3 Q547.0,201.7 549.0,204.3 Q551.0,207.0 553.3,209.2 Q555.6,211.3 557.8,212.9 Q560.0,214.5 562.0,215.6 Q564.0,216.6 565.5,219.3 Q567.0,222.0 567.6,224.0 Q568.3,226.0 570.6,226.0 Q573.0,226.0 576.0,225.0 Q579.0,224.0 581.0,224.2 Q583.0,224.5 585.2,225.8 Q587.4,227.0 589.7,228.5 Q592.0,230.0 594.0,231.2 Q596.0,232.5 598.0,234.2 L600.0,236.0" fill="none" stroke="#6022cc" stroke-width="4.6" opacity="0.65" stroke-linecap="round" stroke-linejoin="round"/>
<path d="M543.0,181.0 Q541.9,187.0 543.0,191.0 Q544.0,195.0 545.5,198.3 Q547.0,201.7 549.0,204.3 Q551.0,207.0 553.3,209.2 Q555.6,211.3 557.8,212.9 Q560.0,214.5 562.0,215.6 Q564.0,216.6 565.5,219.3 Q567.0,222.0 567.6,224.0 Q568.3,226.0 570.6,226.0 Q573.0,226.0 576.0,225.0 Q579.0,224.0 581.0,224.2 Q583.0,224.5 585.2,225.8 Q587.4,227.0 589.7,228.5 Q592.0,230.0 594.0,231.2 Q596.0,232.5 598.0,234.2 L600.0,236.0" fill="none" stroke="#9026b8" stroke-width="2.0" opacity="0.95" stroke-linecap="round" stroke-linejoin="round"/>
<path d="M512.0,133.5 Q511.5,139.0 511.2,142.5 Q511.0,146.0 509.0,148.5 Q507.0,151.0 504.5,151.8 Q502.0,152.5 500.0,150.2 Q498.0,148.0 496.5,145.0 L495.0,142.0" fill="none" stroke="#1a24b4" stroke-width="2.0" opacity="0.85" stroke-linecap="round" stroke-linejoin="round"/>
<polygon points="404.5,232.0 405.0,222.0 407.7,208.9 412.0,207.0 416.0,205.7 420.0,207.5 424.6,207.8 428.0,202.0 433.0,194.0 437.0,186.0 441.0,180.0 443.7,177.0 447.0,179.5 450.0,178.0 453.0,180.5 456.4,179.2 460.0,182.5 464.9,184.5 469.0,182.0 473.3,181.4 477.0,183.5 480.0,182.5 484.0,184.5 489.0,185.0 493.0,187.5 496.6,188.8 498.5,186.0 500.8,184.5 506.0,185.5 511.0,184.0 516.0,185.0 522.0,183.5 527.0,185.0 531.0,184.3 533.7,185.6 534.0,206.8 529.4,216.3 529.4,240.0 404.5,240.0" fill="url(#fgr)"/>
<g filter="url(#b1)">
<polygon points="486,190 500,186 534,186 533,205 500,205 496,212 484,206" fill="#e0e824" opacity="0.8"/>
<polygon points="404,209 410,207 420,207.5 414,214 406,218" fill="#48b838" opacity="0.6"/>
</g>
<polygon points="423,209 430,200 437,187 443,177.5 447,181 441,192 436,206 432,222 426,224" fill="#50bc34" opacity="0.55" filter="url(#b1)"/>
<polygon points="533.7,185.6 534.6,206.8 529.4,216.3 529.4,190" fill="#208860" opacity="0.85"/>
<g stroke-linecap="round">
<line x1="448.2" y1="206.1" x2="446.7" y2="225.2" stroke="#187868" stroke-width="0.77" opacity="0.55"/>
<line x1="424.3" y1="210.5" x2="422.8" y2="224.2" stroke="#209858" stroke-width="0.98" opacity="0.28"/>
<line x1="434.6" y1="197.6" x2="433.1" y2="215.3" stroke="#188848" stroke-width="0.86" opacity="0.39"/>
<line x1="448.2" y1="209.3" x2="446.7" y2="225.1" stroke="#209858" stroke-width="0.51" opacity="0.43"/>
<line x1="412.4" y1="199.4" x2="410.9" y2="210.3" stroke="#188848" stroke-width="0.97" opacity="0.36"/>
<line x1="460.8" y1="199.5" x2="459.3" y2="210.3" stroke="#20a040" stroke-width="0.80" opacity="0.48"/>
<line x1="448.6" y1="201.0" x2="447.1" y2="221.0" stroke="#188848" stroke-width="0.92" opacity="0.36"/>
<line x1="427.9" y1="201.2" x2="426.4" y2="210.0" stroke="#188848" stroke-width="0.74" opacity="0.55"/>
<line x1="442.2" y1="213.2" x2="440.7" y2="231.4" stroke="#188848" stroke-width="0.63" opacity="0.57"/>
<line x1="411.8" y1="202.8" x2="410.3" y2="219.3" stroke="#187868" stroke-width="0.54" opacity="0.47"/>
<line x1="477.8" y1="200.9" x2="476.3" y2="209.9" stroke="#20a040" stroke-width="0.51" opacity="0.39"/>
<line x1="491.0" y1="198.4" x2="489.5" y2="214.9" stroke="#188848" stroke-width="0.54" opacity="0.53"/>
<line x1="423.2" y1="206.1" x2="421.7" y2="219.4" stroke="#108888" stroke-width="1.09" opacity="0.52"/>
<line x1="445.1" y1="202.9" x2="443.6" y2="215.6" stroke="#108888" stroke-width="0.50" opacity="0.55"/>
<line x1="495.7" y1="206.7" x2="494.2" y2="226.6" stroke="#188848" stroke-width="0.63" opacity="0.39"/>
<line x1="484.7" y1="207.6" x2="483.2" y2="216.8" stroke="#108888" stroke-width="0.63" opacity="0.34"/>
<line x1="477.3" y1="201.9" x2="475.8" y2="213.5" stroke="#188848" stroke-width="0.54" opacity="0.32"/>
<line x1="464.9" y1="196.3" x2="463.4" y2="208.7" stroke="#209858" stroke-width="0.77" opacity="0.59"/>
<line x1="451.0" y1="206.3" x2="449.5" y2="224.7" stroke="#108888" stroke-width="0.88" opacity="0.36"/>
<line x1="427.8" y1="207.0" x2="426.3" y2="223.7" stroke="#108888" stroke-width="0.94" opacity="0.58"/>
<line x1="424.9" y1="213.1" x2="423.4" y2="231.7" stroke="#209858" stroke-width="0.55" opacity="0.27"/>
<line x1="416.9" y1="205.2" x2="415.4" y2="216.3" stroke="#187868" stroke-width="0.65" opacity="0.54"/>
<line x1="461.3" y1="201.3" x2="459.8" y2="211.4" stroke="#188848" stroke-width="0.58" opacity="0.42"/>
<line x1="466.5" y1="207.1" x2="465.0" y2="216.0" stroke="#108888" stroke-width="1.05" opacity="0.32"/>
<line x1="408.5" y1="200.8" x2="407.0" y2="214.2" stroke="#188848" stroke-width="0.53" opacity="0.35"/>
<line x1="455.3" y1="213.5" x2="453.8" y2="222.6" stroke="#108888" stroke-width="1.03" opacity="0.59"/>
<line x1="466.8" y1="208.4" x2="465.3" y2="223.5" stroke="#108888" stroke-width="0.85" opacity="0.57"/>
<line x1="450.2" y1="202.4" x2="448.7" y2="214.2" stroke="#188848" stroke-width="0.51" opacity="0.47"/>
<line x1="450.9" y1="209.1" x2="449.4" y2="221.0" stroke="#188848" stroke-width="0.55" opacity="0.44"/>
<line x1="474.1" y1="212.2" x2="472.6" y2="229.0" stroke="#108888" stroke-width="0.98" opacity="0.57"/>
<line x1="439.0" y1="208.3" x2="437.5" y2="227.1" stroke="#187868" stroke-width="1.07" opacity="0.26"/>
<line x1="452.5" y1="196.3" x2="451.0" y2="212.2" stroke="#187868" stroke-width="0.85" opacity="0.46"/>
<line x1="414.3" y1="207.5" x2="412.8" y2="227.4" stroke="#187868" stroke-width="0.94" opacity="0.39"/>
<line x1="473.9" y1="206.5" x2="472.4" y2="219.7" stroke="#209858" stroke-width="0.55" opacity="0.51"/>
<line x1="409.7" y1="206.8" x2="408.2" y2="220.6" stroke="#108888" stroke-width="1.07" opacity="0.29"/>
<line x1="478.0" y1="207.9" x2="476.5" y2="221.7" stroke="#188848" stroke-width="0.72" opacity="0.30"/>
<line x1="462.7" y1="205.3" x2="461.2" y2="222.4" stroke="#20a040" stroke-width="0.90" opacity="0.40"/>
<line x1="488.1" y1="201.9" x2="486.6" y2="217.9" stroke="#108888" stroke-width="0.88" opacity="0.53"/>
<line x1="475.7" y1="199.6" x2="474.2" y2="210.2" stroke="#108888" stroke-width="0.85" opacity="0.36"/>
<line x1="419.4" y1="204.9" x2="417.9" y2="223.0" stroke="#188848" stroke-width="0.93" opacity="0.58"/>
<line x1="432.2" y1="199.0" x2="430.7" y2="212.5" stroke="#20a040" stroke-width="1.06" opacity="0.54"/>
<line x1="441.8" y1="205.4" x2="440.3" y2="221.4" stroke="#209858" stroke-width="0.77" opacity="0.28"/>
<line x1="409.9" y1="211.7" x2="408.4" y2="220.2" stroke="#20a040" stroke-width="0.84" opacity="0.36"/>
<line x1="479.0" y1="196.3" x2="477.5" y2="206.0" stroke="#187868" stroke-width="0.61" opacity="0.52"/>
<line x1="431.2" y1="210.0" x2="429.7" y2="227.6" stroke="#188848" stroke-width="0.77" opacity="0.47"/>
<line x1="466.6" y1="210.5" x2="465.1" y2="230.0" stroke="#108888" stroke-width="0.62" opacity="0.42"/>
<line x1="423.3" y1="196.2" x2="421.8" y2="209.9" stroke="#188848" stroke-width="0.61" opacity="0.35"/>
<line x1="438.5" y1="208.6" x2="437.0" y2="222.8" stroke="#209858" stroke-width="1.10" opacity="0.31"/>
<line x1="484.2" y1="208.6" x2="482.7" y2="219.3" stroke="#187868" stroke-width="1.06" opacity="0.50"/>
<line x1="418.8" y1="204.2" x2="417.3" y2="219.7" stroke="#188848" stroke-width="0.73" opacity="0.45"/>
<line x1="487.0" y1="210.3" x2="485.5" y2="229.7" stroke="#187868" stroke-width="0.70" opacity="0.59"/>
<line x1="416.0" y1="211.6" x2="414.5" y2="229.2" stroke="#188848" stroke-width="0.63" opacity="0.56"/>
<line x1="496.2" y1="213.6" x2="494.7" y2="228.0" stroke="#20a040" stroke-width="0.66" opacity="0.50"/>
<line x1="408.4" y1="205.1" x2="406.9" y2="213.5" stroke="#20a040" stroke-width="0.83" opacity="0.52"/>
<line x1="451.4" y1="196.5" x2="449.9" y2="214.2" stroke="#188848" stroke-width="0.76" opacity="0.26"/>
<line x1="455.5" y1="208.4" x2="454.0" y2="227.4" stroke="#187868" stroke-width="0.59" opacity="0.43"/>
<line x1="472.8" y1="211.1" x2="471.3" y2="227.4" stroke="#187868" stroke-width="0.85" opacity="0.49"/>
<line x1="476.0" y1="203.9" x2="474.5" y2="218.6" stroke="#209858" stroke-width="0.88" opacity="0.43"/>
<line x1="483.8" y1="206.1" x2="482.3" y2="217.8" stroke="#187868" stroke-width="1.07" opacity="0.55"/>
<line x1="462.5" y1="201.5" x2="461.0" y2="211.2" stroke="#209858" stroke-width="0.81" opacity="0.45"/>
</g>
<g mask="url(#nzm)" opacity="0.45"><rect x="286" y="22" width="345" height="218" filter="url(#nzd)" opacity="0.6"/><rect x="286" y="22" width="345" height="218" filter="url(#nzl)" opacity="0.3"/></g>
</g>
<g stroke="#9aa4b4" stroke-width="0.4" fill="none">
<path d="M285.5,158 L311,167.5 L324,172"/>
<path d="M371.5,250 L377,232.6"/>
<path d="M539.3,249.8 L488,230.3"/>
<path d="M548.8,249.8 L554.6,236.7"/>
<path d="M397.6,22.7 L410,24.5"/>
</g>
<rect x="285.5" y="22.7" width="343.9" height="227.2" fill="none" stroke="#44444e" stroke-width="1.2"/>
<g stroke="#222244" stroke-width="0.9">
<line x1="397.6" y1="19.5" x2="397.6" y2="22.7"/>
<line x1="454.6" y1="19.5" x2="454.6" y2="22.7"/>
<line x1="371.5" y1="250" x2="371.5" y2="253.5"/>
<line x1="539.3" y1="250" x2="539.3" y2="253.5"/>
<line x1="548.8" y1="250" x2="548.8" y2="253.5"/>
<line x1="282.5" y1="158" x2="285.5" y2="158"/>
<line x1="629.4" y1="30.2" x2="632.4" y2="30.2"/>
<line x1="629.4" y1="106.7" x2="632.4" y2="106.7"/>
</g>
<text x="397.8" y="18.2" text-anchor="middle" font-size="5" fill="#333">67°30'E</text>
<text x="455" y="18.2" text-anchor="middle" font-size="5" fill="#333">18°N</text>
<text x="371.5" y="258.5" text-anchor="middle" font-size="5" fill="#333">18°N</text>
<text x="539.5" y="258.5" text-anchor="middle" font-size="5" fill="#333">67°E</text>
<text x="281.5" y="160" text-anchor="end" font-size="5" fill="#333">67°E</text>
<text x="633" y="31.8" text-anchor="start" font-size="5" fill="#333">17°30'N</text>
<text x="633" y="108.3" text-anchor="start" font-size="5" fill="#333">67°30'E</text>
<text class="ser" x="286.4" y="15.4" font-size="16" fill="#111">b</text>
<polygon points="293.4,30.4 301.4,32.9 304.4,37.9" fill="#111"/>
<polygon points="293.4,30.4 306.9,30.7 301.4,32.9" fill="#e4e4e4" stroke="#555" stroke-width="0.45"/>
<text transform="translate(291.3,29.8) rotate(-72)" font-size="5.2" font-weight="bold" fill="#333" text-anchor="middle">N</text>
<rect x="292.4" y="239.5" width="59.9" height="2.6" fill="#111"/>
<rect x="300" y="240" width="7.4" height="1.6" fill="#fff"/><rect x="315" y="240" width="7.4" height="1.6" fill="#fff"/>
<text x="292.6" y="247.4" text-anchor="middle" font-size="4.6" fill="#333">0</text>
<text x="307.4" y="247.4" text-anchor="middle" font-size="4.6" fill="#333">5</text>
<text x="322.4" y="247.4" text-anchor="middle" font-size="4.6" fill="#333">10</text>
<text x="352.3" y="247.4" text-anchor="middle" font-size="4.6" fill="#333">20</text>
<text x="353.5" y="242" font-size="4.6" fill="#333">km</text>
<rect x="655.8" y="155" width="25.2" height="94.6" fill="url(#cbb)"/>
<text x="657" y="146.2" text-anchor="middle" font-size="5.2" fill="#333">Depth (m)</text>
<g stroke="#333" stroke-width="0.5">
<line x1="652" y1="163.5" x2="655.8" y2="163.5"/>
<line x1="652" y1="181.4" x2="655.8" y2="181.4"/>
<line x1="652" y1="200.3" x2="655.8" y2="200.3"/>
<line x1="652" y1="219.2" x2="655.8" y2="219.2"/>
<line x1="652" y1="237.7" x2="655.8" y2="237.7"/>
</g>
<text x="650.8" y="165.3" text-anchor="end" font-size="5" fill="#333">2800</text>
<text x="650.8" y="183.20000000000002" text-anchor="end" font-size="5" fill="#333">3000</text>
<text x="650.8" y="202.10000000000002" text-anchor="end" font-size="5" fill="#333">3200</text>
<text x="650.8" y="221.0" text-anchor="end" font-size="5" fill="#333">3400</text>
<text x="650.8" y="239.5" text-anchor="end" font-size="5" fill="#333">3600</text>
</g>
</svg></body></html>
